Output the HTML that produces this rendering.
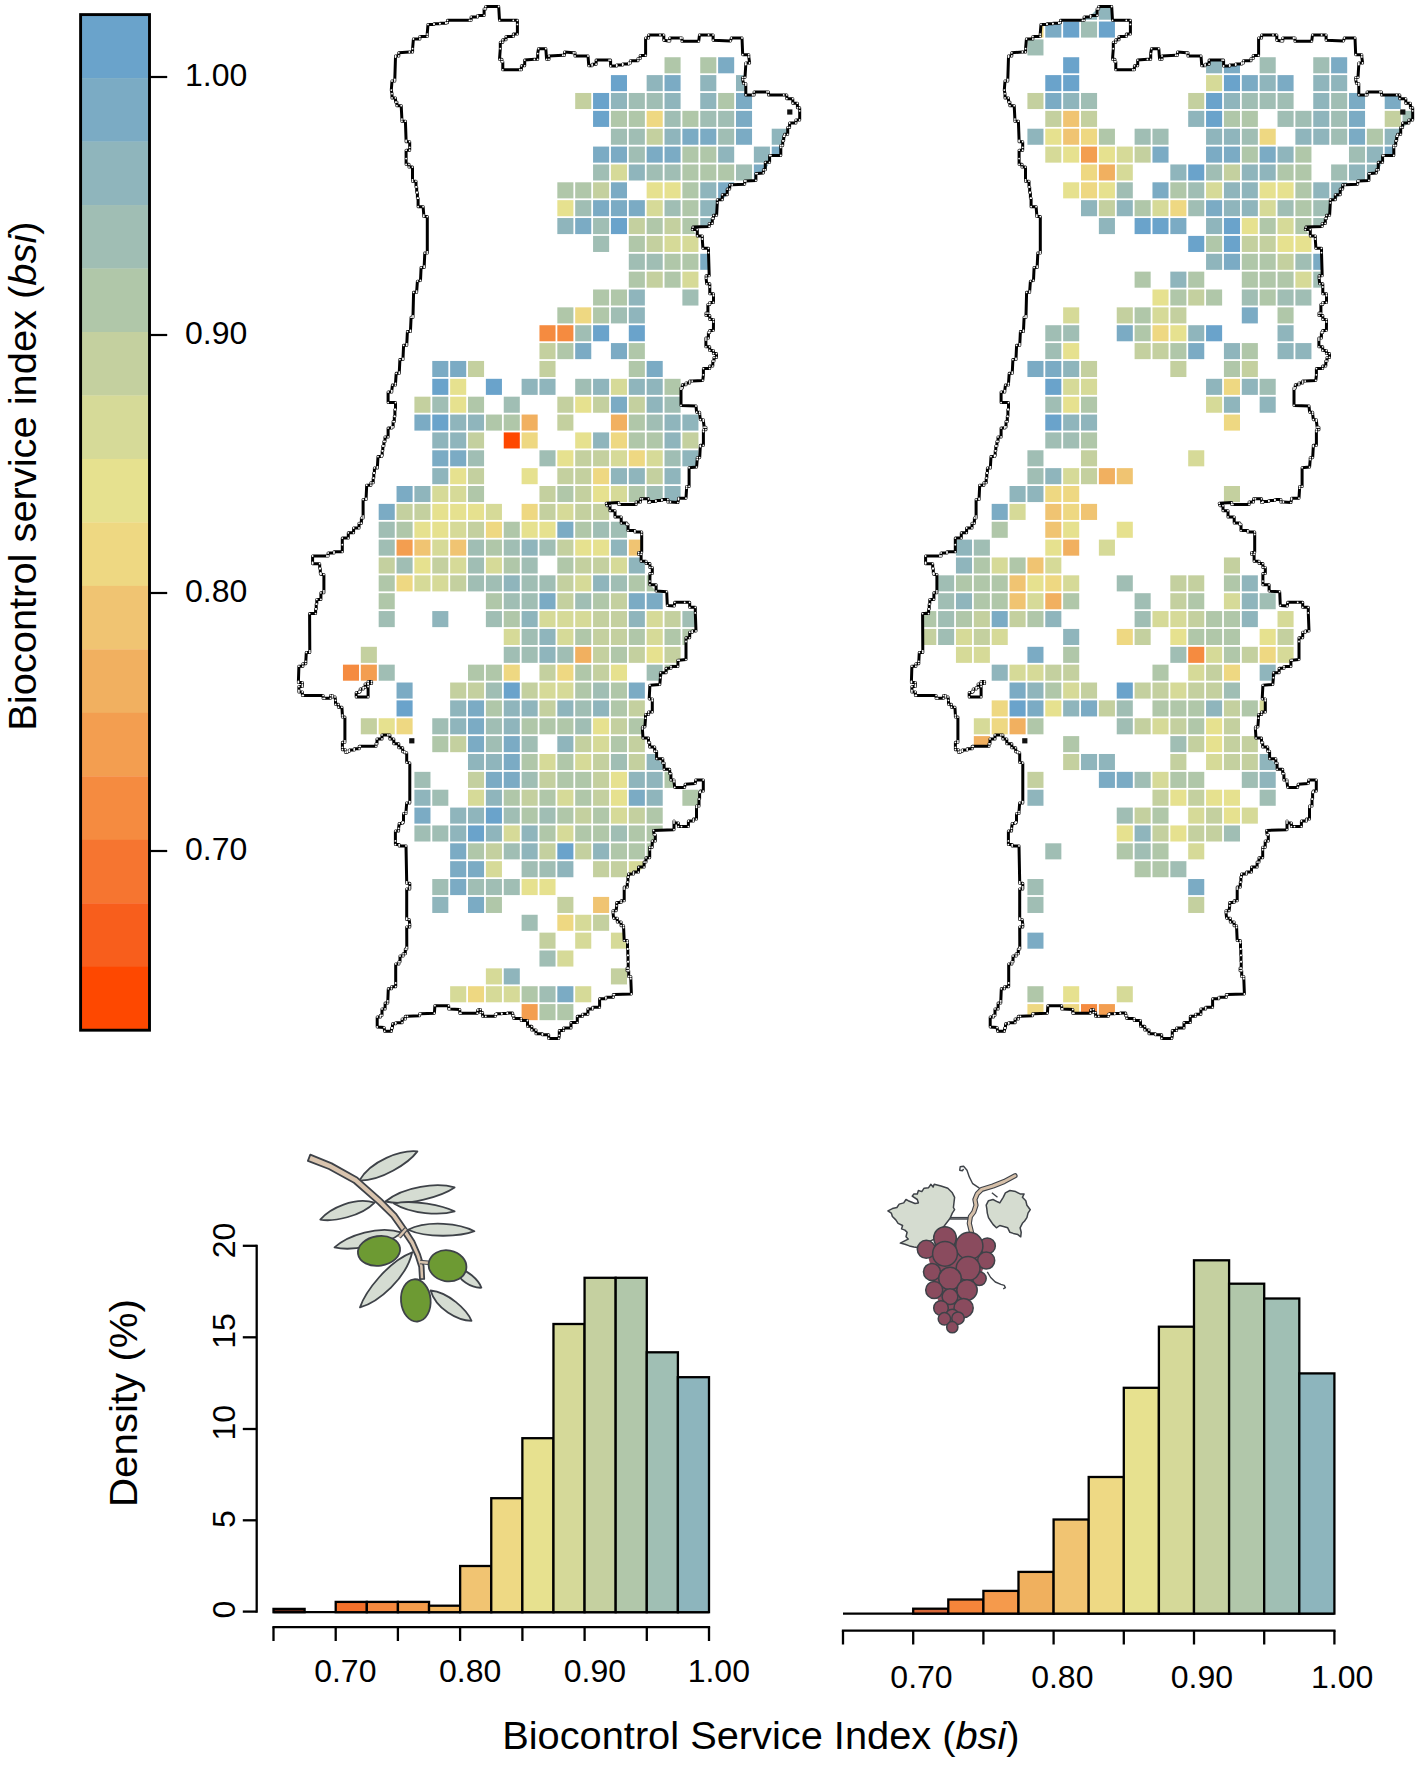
<!DOCTYPE html>
<html><head><meta charset="utf-8"><style>
html,body{margin:0;padding:0;background:#fff;}
svg{display:block;}
.t{font-family:"Liberation Sans",sans-serif;fill:#000;}
</style></head><body>
<svg width="1416" height="1765" viewBox="0 0 1416 1765">
<defs><marker id="dot" markerUnits="userSpaceOnUse" markerWidth="4" markerHeight="4" refX="2" refY="2" overflow="visible"><circle cx="2" cy="2" r="0.9" fill="#fff"/></marker></defs>
<rect width="1416" height="1765" fill="#fff"/>
<rect x="80.6" y="14.60" width="68.9" height="63.77" fill="#6aa3cb"/>
<rect x="80.6" y="78.08" width="68.9" height="63.77" fill="#7babc4"/>
<rect x="80.6" y="141.55" width="68.9" height="63.77" fill="#8fb5bc"/>
<rect x="80.6" y="205.03" width="68.9" height="63.77" fill="#a0beb4"/>
<rect x="80.6" y="268.50" width="68.9" height="63.77" fill="#b0c7a9"/>
<rect x="80.6" y="331.98" width="68.9" height="63.77" fill="#c4d09f"/>
<rect x="80.6" y="395.45" width="68.9" height="63.77" fill="#d6da98"/>
<rect x="80.6" y="458.93" width="68.9" height="63.77" fill="#e6e18f"/>
<rect x="80.6" y="522.40" width="68.9" height="63.77" fill="#eed882"/>
<rect x="80.6" y="585.88" width="68.9" height="63.77" fill="#f0c472"/>
<rect x="80.6" y="649.35" width="68.9" height="63.77" fill="#f1b060"/>
<rect x="80.6" y="712.83" width="68.9" height="63.77" fill="#f39e50"/>
<rect x="80.6" y="776.30" width="68.9" height="63.77" fill="#f58b40"/>
<rect x="80.6" y="839.78" width="68.9" height="63.77" fill="#f67530"/>
<rect x="80.6" y="903.25" width="68.9" height="63.77" fill="#f85e1c"/>
<rect x="80.6" y="966.73" width="68.9" height="63.77" fill="#fe4800"/>
<rect x="80.6" y="14.6" width="68.9" height="1015.6" fill="none" stroke="#000" stroke-width="2.9"/>
<line x1="150" y1="77" x2="167.2" y2="77" stroke="#000" stroke-width="2.2"/>
<text x="185" y="86" font-size="32" class="t">1.00</text>
<line x1="150" y1="335" x2="167.2" y2="335" stroke="#000" stroke-width="2.2"/>
<text x="185" y="344" font-size="32" class="t">0.90</text>
<line x1="150" y1="593" x2="167.2" y2="593" stroke="#000" stroke-width="2.2"/>
<text x="185" y="602" font-size="32" class="t">0.80</text>
<line x1="150" y1="851" x2="167.2" y2="851" stroke="#000" stroke-width="2.2"/>
<text x="185" y="860" font-size="32" class="t">0.70</text>
<text class="t" font-size="39" textLength="509.4" lengthAdjust="spacingAndGlyphs" transform="translate(36,730.8) rotate(-90)">Biocontrol service index (<tspan font-style="italic">bsi</tspan>)</text>
<clipPath id="clip1"><polygon points="395.6,56.0 398.8,52.8 409.4,52.0 412.6,48.7 413.4,39.0 419.9,36.5 427.2,34.1 428.0,24.4 445.9,22.7 447.5,20.3 469.5,20.3 471.1,17.0 477.6,15.4 484.1,8.9 485.7,6.5 498.7,6.5 499.5,20.3 513.3,20.3 517.4,24.4 517.4,34.1 513.3,36.5 506.0,39.8 502.8,42.2 500.3,48.7 499.5,59.3 501.9,61.7 502.8,69.8 519.8,69.8 521.4,65.8 524.7,60.1 534.4,59.3 537.7,53.6 538.5,48.7 545.8,48.7 546.6,59.3 549.0,56.0 562.8,55.2 564.5,52.0 573.4,52.8 575.0,56.0 588.0,56.0 588.8,65.8 592.1,64.2 596.1,60.1 609.1,60.1 610.6,66.0 628.8,63.0 630.4,60.7 638.0,58.5 640.2,55.4 645.6,55.4 645.6,38.0 648.6,34.9 660.0,34.9 663.8,40.2 668.3,41.0 669.8,38.0 680.5,38.0 682.0,41.3 698.7,41.3 699.5,34.9 708.6,34.9 713.1,40.2 730.6,41.0 731.3,38.0 742.0,38.0 742.7,54.7 748.8,56.9 749.6,63.0 745.8,64.5 745.0,77.4 742.7,79.7 743.5,83.5 745.8,85.0 745.8,94.9 752.6,94.9 754.1,91.9 767.0,91.9 768.5,94.9 783.7,94.9 786.8,98.7 792.8,103.2 797.4,107.8 799.7,110.8 799.7,120.0 795.9,123.0 789.6,127.4 787.7,134.3 784.6,136.2 782.7,145.5 780.8,147.4 780.8,155.5 770.9,155.5 769.6,162.3 765.3,169.8 763.4,172.9 757.1,173.6 755.9,180.4 745.9,181.0 744.7,184.2 732.2,184.8 729.7,189.1 727.2,194.7 722.3,199.7 717.3,202.8 716.6,215.3 713.5,218.4 712.3,223.4 709.2,226.5 693.0,227.1 692.3,229.6 697.3,235.9 702.3,239.0 702.9,248.3 708.5,252.7 709.2,275.8 706.1,278.2 706.7,283.8 709.8,287.0 709.8,293.8 713.5,295.7 713.5,302.5 709.8,304.4 707.9,313.1 706.0,315.6 709.8,319.4 713.5,321.9 713.4,330.6 709.7,332.5 708.4,338.1 705.9,339.9 705.9,346.8 709.7,350.5 713.4,353.6 716.5,357.4 714.0,361.1 712.8,366.1 709.7,368.6 703.4,374.8 702.8,380.4 692.2,381.1 689.7,382.9 686.0,384.8 682.3,387.9 681.0,389.2 681.0,405.4 696.0,406.0 696.6,412.2 699.7,414.1 700.3,419.7 703.4,421.0 704.1,427.2 705.9,429.7 703.4,431.5 703.4,445.3 700.3,446.5 699.7,457.7 697.2,459.6 696.6,467.1 689.1,467.7 689.1,486.4 686.6,488.2 686.0,498.2 678.5,499.5 677.9,502.6 670.4,502.0 667.9,499.5 649.9,502.6 648.6,498.8 642.4,498.8 640.5,502.0 636.1,504.4 619.9,504.4 618.7,502.6 606.2,503.2 606.9,505.7 610.0,510.7 615.0,516.9 621.2,523.1 626.8,524.4 628.0,530.6 634.9,531.9 641.7,534.4 641.7,552.4 638.6,554.3 641.1,561.2 646.1,563.6 649.9,567.4 652.3,573.6 649.9,581.1 649.9,584.8 656.1,591.1 666.7,591.7 667.3,605.4 674.2,606.0 674.8,602.3 684.7,602.3 689.7,607.3 695.3,612.9 696.0,631.0 692.2,632.2 689.7,637.8 686.0,641.5 686.0,659.6 679.1,660.2 677.9,666.5 671.0,668.3 666.1,672.7 660.4,677.7 659.8,684.5 649.9,685.2 649.2,698.9 652.3,700.7 652.3,712.0 648.6,714.4 645.5,718.2 644.9,726.9 642.4,728.8 643.0,738.1 648.5,742.5 649.7,746.9 654.7,751.2 656.6,758.7 662.8,763.1 664.1,769.3 669.7,773.6 670.9,779.9 674.0,781.7 674.7,787.4 684.6,787.4 685.2,784.2 695.2,783.6 695.8,779.9 703.3,779.9 703.3,791.1 700.2,792.3 699.0,806.0 696.5,807.3 696.5,819.1 693.4,821.0 688.4,826.6 681.5,826.6 678.4,822.9 674.0,821.0 674.0,829.7 653.5,830.4 654.1,834.7 655.3,841.0 652.2,847.2 649.7,849.7 649.7,857.8 646.0,862.1 644.1,867.1 638.5,872.1 633.5,874.0 628.5,877.1 627.3,887.1 624.2,888.9 624.2,900.8 621.1,902.6 616.7,905.8 616.1,910.7 613.0,912.6 613.6,918.2 617.3,922.0 621.1,925.7 623.6,927.6 624.2,940.6 627.3,942.5 628.2,968.1 627.1,970.7 628.7,976.5 630.8,978.7 631.4,994.0 614.4,994.6 613.3,997.2 605.9,998.8 599.6,1007.3 592.7,1008.9 587.9,1014.2 582.6,1016.3 577.3,1022.6 571.0,1027.9 563.6,1030.6 559.3,1035.3 558.8,1038.5 548.7,1038.5 548.7,1034.8 542.4,1033.8 536.0,1030.0 531.8,1026.3 527.5,1020.5 521.2,1018.4 513.8,1015.7 512.7,1013.1 496.4,1014.2 495.3,1016.3 485.8,1016.3 482.6,1012.6 480.5,1009.4 477.8,1010.0 477.3,1013.2 460.9,1013.2 459.8,1009.4 449.7,1008.9 448.7,1005.7 434.9,1005.7 434.4,1013.2 420.6,1013.7 419.6,1015.8 407.4,1016.3 405.3,1019.0 402.1,1022.7 395.7,1023.8 392.5,1028.0 391.5,1031.2 384.6,1031.2 384.1,1027.5 377.2,1026.9 377.2,1016.9 380.4,1015.3 382.0,1008.9 385.1,1003.1 387.8,1001.0 388.3,988.8 391.5,986.7 395.7,983.0 395.7,963.9 398.9,961.8 400.0,956.0 403.1,953.8 405.3,949.1 406.8,947.5 406.7,926.9 409.8,924.4 409.1,919.4 406.7,918.2 406.7,888.9 409.8,887.0 409.8,883.3 406.7,882.0 406.0,845.9 399.2,844.6 395.4,840.9 395.4,830.9 398.6,828.4 399.2,823.5 402.3,822.2 403.5,813.5 406.0,811.6 406.7,802.9 409.8,801.6 409.8,763.0 406.7,762.4 406.7,752.7 404.7,751.7 402.7,747.8 398.8,743.8 393.8,738.9 389.9,734.9 387.9,734.9 382.0,738.9 377.0,743.8 376.0,746.3 360.2,746.3 359.2,748.8 349.3,751.2 347.3,752.2 345.4,749.7 342.4,747.3 342.4,742.3 344.9,740.9 344.9,717.1 342.4,715.1 341.9,707.2 338.4,704.3 335.5,700.3 335.0,696.9 332.5,695.4 330.5,698.3 324.6,698.3 323.1,695.4 303.3,695.4 302.4,691.9 298.9,690.4 298.9,686.5 302.4,685.0 302.4,682.5 298.4,681.5 298.9,666.2 302.9,663.7 305.8,661.3 306.3,652.4 309.8,650.9 309.6,613.6 315.6,608.9 316.8,599.4 320.9,592.8 323.9,591.0 323.9,574.4 320.9,573.2 319.7,563.7 312.6,562.5 312.6,556.0 326.9,556.0 328.1,553.0 334.0,551.8 342.3,544.7 342.3,538.1 348.3,532.8 359.0,523.2 361.4,517.9 363.1,516.1 363.1,499.5 366.1,498.3 366.7,485.2 370.9,482.8 373.2,478.1 374.4,467.9 377.4,466.8 378.0,456.6 381.6,455.5 382.8,446.0 385.0,436.9 388.1,428.1 391.8,426.9 394.3,416.3 395.5,402.6 388.1,402.6 388.1,392.0 391.8,390.7 392.4,385.1 395.5,383.3 396.2,373.3 399.3,372.1 399.9,359.6 403.0,358.4 403.6,345.3 406.8,344.0 407.4,331.6 410.5,330.3 411.1,317.2 413.0,316.0 413.6,292.3 416.7,291.1 417.4,281.1 420.5,280.5 421.1,267.4 424.2,266.1 424.8,253.1 427.3,251.8 427.3,216.6 423.8,215.1 423.1,206.7 418.1,198.2 416.0,181.2 412.5,179.8 412.5,167.1 409.0,164.3 406.1,158.6 406.1,150.2 409.7,147.3 409.7,141.7 406.1,140.3 405.4,121.2 401.9,119.1 401.2,105.7 396.9,102.1 395.5,97.9 392.0,93.7 391.3,90.1 392.0,81.0 394.8,79.5 395.5,57.0"/></clipPath>
<g clip-path="url(#clip1)">
<rect x="664.52" y="57.24" width="16.07" height="16.07" fill="#b0c7a9"/>
<rect x="700.25" y="57.24" width="16.07" height="16.07" fill="#b0c7a9"/>
<rect x="718.12" y="57.24" width="16.07" height="16.07" fill="#7babc4"/>
<rect x="610.92" y="75.11" width="16.07" height="16.07" fill="#6aa3cb"/>
<rect x="646.65" y="75.11" width="16.07" height="16.07" fill="#8fb5bc"/>
<rect x="664.52" y="75.11" width="16.07" height="16.07" fill="#7babc4"/>
<rect x="700.25" y="75.11" width="16.07" height="16.07" fill="#8fb5bc"/>
<rect x="735.98" y="75.11" width="16.07" height="16.07" fill="#8fb5bc"/>
<rect x="575.19" y="92.97" width="16.07" height="16.07" fill="#c4d09f"/>
<rect x="593.06" y="92.97" width="16.07" height="16.07" fill="#6aa3cb"/>
<rect x="610.92" y="92.97" width="16.07" height="16.07" fill="#8fb5bc"/>
<rect x="628.79" y="92.97" width="16.07" height="16.07" fill="#a0beb4"/>
<rect x="646.65" y="92.97" width="16.07" height="16.07" fill="#a0beb4"/>
<rect x="664.52" y="92.97" width="16.07" height="16.07" fill="#8fb5bc"/>
<rect x="700.25" y="92.97" width="16.07" height="16.07" fill="#8fb5bc"/>
<rect x="718.12" y="92.97" width="16.07" height="16.07" fill="#b0c7a9"/>
<rect x="735.98" y="92.97" width="16.07" height="16.07" fill="#7babc4"/>
<rect x="593.06" y="110.84" width="16.07" height="16.07" fill="#6aa3cb"/>
<rect x="610.92" y="110.84" width="16.07" height="16.07" fill="#b0c7a9"/>
<rect x="628.79" y="110.84" width="16.07" height="16.07" fill="#b0c7a9"/>
<rect x="646.65" y="110.84" width="16.07" height="16.07" fill="#eed882"/>
<rect x="664.52" y="110.84" width="16.07" height="16.07" fill="#a0beb4"/>
<rect x="682.38" y="110.84" width="16.07" height="16.07" fill="#b0c7a9"/>
<rect x="700.25" y="110.84" width="16.07" height="16.07" fill="#a0beb4"/>
<rect x="718.12" y="110.84" width="16.07" height="16.07" fill="#a0beb4"/>
<rect x="735.98" y="110.84" width="16.07" height="16.07" fill="#7babc4"/>
<rect x="610.92" y="128.70" width="16.07" height="16.07" fill="#a0beb4"/>
<rect x="628.79" y="128.70" width="16.07" height="16.07" fill="#a0beb4"/>
<rect x="646.65" y="128.70" width="16.07" height="16.07" fill="#c4d09f"/>
<rect x="664.52" y="128.70" width="16.07" height="16.07" fill="#8fb5bc"/>
<rect x="682.38" y="128.70" width="16.07" height="16.07" fill="#7babc4"/>
<rect x="700.25" y="128.70" width="16.07" height="16.07" fill="#7babc4"/>
<rect x="718.12" y="128.70" width="16.07" height="16.07" fill="#a0beb4"/>
<rect x="735.98" y="128.70" width="16.07" height="16.07" fill="#7babc4"/>
<rect x="771.71" y="128.70" width="16.07" height="16.07" fill="#8fb5bc"/>
<rect x="593.06" y="146.57" width="16.07" height="16.07" fill="#7babc4"/>
<rect x="610.92" y="146.57" width="16.07" height="16.07" fill="#7babc4"/>
<rect x="628.79" y="146.57" width="16.07" height="16.07" fill="#a0beb4"/>
<rect x="646.65" y="146.57" width="16.07" height="16.07" fill="#7babc4"/>
<rect x="664.52" y="146.57" width="16.07" height="16.07" fill="#7babc4"/>
<rect x="682.38" y="146.57" width="16.07" height="16.07" fill="#b0c7a9"/>
<rect x="700.25" y="146.57" width="16.07" height="16.07" fill="#b0c7a9"/>
<rect x="718.12" y="146.57" width="16.07" height="16.07" fill="#8fb5bc"/>
<rect x="753.85" y="146.57" width="16.07" height="16.07" fill="#8fb5bc"/>
<rect x="771.71" y="146.57" width="16.07" height="16.07" fill="#7babc4"/>
<rect x="593.06" y="164.44" width="16.07" height="16.07" fill="#a0beb4"/>
<rect x="610.92" y="164.44" width="16.07" height="16.07" fill="#d6da98"/>
<rect x="628.79" y="164.44" width="16.07" height="16.07" fill="#8fb5bc"/>
<rect x="646.65" y="164.44" width="16.07" height="16.07" fill="#a0beb4"/>
<rect x="664.52" y="164.44" width="16.07" height="16.07" fill="#a0beb4"/>
<rect x="682.38" y="164.44" width="16.07" height="16.07" fill="#b0c7a9"/>
<rect x="700.25" y="164.44" width="16.07" height="16.07" fill="#b0c7a9"/>
<rect x="718.12" y="164.44" width="16.07" height="16.07" fill="#b0c7a9"/>
<rect x="735.98" y="164.44" width="16.07" height="16.07" fill="#a0beb4"/>
<rect x="753.85" y="164.44" width="16.07" height="16.07" fill="#7babc4"/>
<rect x="557.33" y="182.30" width="16.07" height="16.07" fill="#b0c7a9"/>
<rect x="575.19" y="182.30" width="16.07" height="16.07" fill="#b0c7a9"/>
<rect x="593.06" y="182.30" width="16.07" height="16.07" fill="#c4d09f"/>
<rect x="610.92" y="182.30" width="16.07" height="16.07" fill="#7babc4"/>
<rect x="646.65" y="182.30" width="16.07" height="16.07" fill="#e6e18f"/>
<rect x="664.52" y="182.30" width="16.07" height="16.07" fill="#e6e18f"/>
<rect x="682.38" y="182.30" width="16.07" height="16.07" fill="#b0c7a9"/>
<rect x="700.25" y="182.30" width="16.07" height="16.07" fill="#8fb5bc"/>
<rect x="718.12" y="182.30" width="16.07" height="16.07" fill="#7babc4"/>
<rect x="557.33" y="200.16" width="16.07" height="16.07" fill="#e6e18f"/>
<rect x="575.19" y="200.16" width="16.07" height="16.07" fill="#a0beb4"/>
<rect x="593.06" y="200.16" width="16.07" height="16.07" fill="#7babc4"/>
<rect x="610.92" y="200.16" width="16.07" height="16.07" fill="#7babc4"/>
<rect x="628.79" y="200.16" width="16.07" height="16.07" fill="#7babc4"/>
<rect x="646.65" y="200.16" width="16.07" height="16.07" fill="#d6da98"/>
<rect x="664.52" y="200.16" width="16.07" height="16.07" fill="#a0beb4"/>
<rect x="682.38" y="200.16" width="16.07" height="16.07" fill="#b0c7a9"/>
<rect x="700.25" y="200.16" width="16.07" height="16.07" fill="#8fb5bc"/>
<rect x="557.33" y="218.03" width="16.07" height="16.07" fill="#8fb5bc"/>
<rect x="575.19" y="218.03" width="16.07" height="16.07" fill="#7babc4"/>
<rect x="593.06" y="218.03" width="16.07" height="16.07" fill="#a0beb4"/>
<rect x="610.92" y="218.03" width="16.07" height="16.07" fill="#6aa3cb"/>
<rect x="628.79" y="218.03" width="16.07" height="16.07" fill="#c4d09f"/>
<rect x="646.65" y="218.03" width="16.07" height="16.07" fill="#b0c7a9"/>
<rect x="664.52" y="218.03" width="16.07" height="16.07" fill="#c4d09f"/>
<rect x="682.38" y="218.03" width="16.07" height="16.07" fill="#b0c7a9"/>
<rect x="700.25" y="218.03" width="16.07" height="16.07" fill="#8fb5bc"/>
<rect x="593.06" y="235.89" width="16.07" height="16.07" fill="#a0beb4"/>
<rect x="628.79" y="235.89" width="16.07" height="16.07" fill="#b0c7a9"/>
<rect x="646.65" y="235.89" width="16.07" height="16.07" fill="#c4d09f"/>
<rect x="664.52" y="235.89" width="16.07" height="16.07" fill="#d6da98"/>
<rect x="682.38" y="235.89" width="16.07" height="16.07" fill="#d6da98"/>
<rect x="628.79" y="253.76" width="16.07" height="16.07" fill="#a0beb4"/>
<rect x="646.65" y="253.76" width="16.07" height="16.07" fill="#a0beb4"/>
<rect x="664.52" y="253.76" width="16.07" height="16.07" fill="#b0c7a9"/>
<rect x="682.38" y="253.76" width="16.07" height="16.07" fill="#b0c7a9"/>
<rect x="700.25" y="253.76" width="16.07" height="16.07" fill="#7babc4"/>
<rect x="628.79" y="271.62" width="16.07" height="16.07" fill="#b0c7a9"/>
<rect x="646.65" y="271.62" width="16.07" height="16.07" fill="#c4d09f"/>
<rect x="664.52" y="271.62" width="16.07" height="16.07" fill="#b0c7a9"/>
<rect x="682.38" y="271.62" width="16.07" height="16.07" fill="#d6da98"/>
<rect x="593.06" y="289.49" width="16.07" height="16.07" fill="#b0c7a9"/>
<rect x="610.92" y="289.49" width="16.07" height="16.07" fill="#b0c7a9"/>
<rect x="628.79" y="289.49" width="16.07" height="16.07" fill="#8fb5bc"/>
<rect x="682.38" y="289.49" width="16.07" height="16.07" fill="#a0beb4"/>
<rect x="557.33" y="307.35" width="16.07" height="16.07" fill="#b0c7a9"/>
<rect x="575.19" y="307.35" width="16.07" height="16.07" fill="#eed882"/>
<rect x="593.06" y="307.35" width="16.07" height="16.07" fill="#b0c7a9"/>
<rect x="610.92" y="307.35" width="16.07" height="16.07" fill="#a0beb4"/>
<rect x="628.79" y="307.35" width="16.07" height="16.07" fill="#8fb5bc"/>
<rect x="539.46" y="325.22" width="16.07" height="16.07" fill="#f58b40"/>
<rect x="557.33" y="325.22" width="16.07" height="16.07" fill="#f58b40"/>
<rect x="575.19" y="325.22" width="16.07" height="16.07" fill="#a0beb4"/>
<rect x="593.06" y="325.22" width="16.07" height="16.07" fill="#6aa3cb"/>
<rect x="628.79" y="325.22" width="16.07" height="16.07" fill="#6aa3cb"/>
<rect x="539.46" y="343.08" width="16.07" height="16.07" fill="#c4d09f"/>
<rect x="557.33" y="343.08" width="16.07" height="16.07" fill="#b0c7a9"/>
<rect x="575.19" y="343.08" width="16.07" height="16.07" fill="#7babc4"/>
<rect x="610.92" y="343.08" width="16.07" height="16.07" fill="#7babc4"/>
<rect x="628.79" y="343.08" width="16.07" height="16.07" fill="#b0c7a9"/>
<rect x="432.27" y="360.95" width="16.07" height="16.07" fill="#7babc4"/>
<rect x="450.14" y="360.95" width="16.07" height="16.07" fill="#7babc4"/>
<rect x="468.00" y="360.95" width="16.07" height="16.07" fill="#c4d09f"/>
<rect x="539.46" y="360.95" width="16.07" height="16.07" fill="#c4d09f"/>
<rect x="628.79" y="360.95" width="16.07" height="16.07" fill="#b0c7a9"/>
<rect x="646.65" y="360.95" width="16.07" height="16.07" fill="#7babc4"/>
<rect x="432.27" y="378.81" width="16.07" height="16.07" fill="#6aa3cb"/>
<rect x="450.14" y="378.81" width="16.07" height="16.07" fill="#e6e18f"/>
<rect x="485.87" y="378.81" width="16.07" height="16.07" fill="#6aa3cb"/>
<rect x="521.60" y="378.81" width="16.07" height="16.07" fill="#8fb5bc"/>
<rect x="539.46" y="378.81" width="16.07" height="16.07" fill="#8fb5bc"/>
<rect x="575.19" y="378.81" width="16.07" height="16.07" fill="#a0beb4"/>
<rect x="593.06" y="378.81" width="16.07" height="16.07" fill="#8fb5bc"/>
<rect x="610.92" y="378.81" width="16.07" height="16.07" fill="#d6da98"/>
<rect x="628.79" y="378.81" width="16.07" height="16.07" fill="#8fb5bc"/>
<rect x="646.65" y="378.81" width="16.07" height="16.07" fill="#8fb5bc"/>
<rect x="664.52" y="378.81" width="16.07" height="16.07" fill="#b0c7a9"/>
<rect x="414.41" y="396.68" width="16.07" height="16.07" fill="#c4d09f"/>
<rect x="432.27" y="396.68" width="16.07" height="16.07" fill="#a0beb4"/>
<rect x="450.14" y="396.68" width="16.07" height="16.07" fill="#e6e18f"/>
<rect x="468.00" y="396.68" width="16.07" height="16.07" fill="#b0c7a9"/>
<rect x="503.74" y="396.68" width="16.07" height="16.07" fill="#a0beb4"/>
<rect x="557.33" y="396.68" width="16.07" height="16.07" fill="#c4d09f"/>
<rect x="575.19" y="396.68" width="16.07" height="16.07" fill="#e6e18f"/>
<rect x="593.06" y="396.68" width="16.07" height="16.07" fill="#c4d09f"/>
<rect x="610.92" y="396.68" width="16.07" height="16.07" fill="#7babc4"/>
<rect x="628.79" y="396.68" width="16.07" height="16.07" fill="#c4d09f"/>
<rect x="646.65" y="396.68" width="16.07" height="16.07" fill="#8fb5bc"/>
<rect x="664.52" y="396.68" width="16.07" height="16.07" fill="#a0beb4"/>
<rect x="414.41" y="414.54" width="16.07" height="16.07" fill="#7babc4"/>
<rect x="432.27" y="414.54" width="16.07" height="16.07" fill="#6aa3cb"/>
<rect x="450.14" y="414.54" width="16.07" height="16.07" fill="#8fb5bc"/>
<rect x="468.00" y="414.54" width="16.07" height="16.07" fill="#8fb5bc"/>
<rect x="485.87" y="414.54" width="16.07" height="16.07" fill="#b0c7a9"/>
<rect x="503.74" y="414.54" width="16.07" height="16.07" fill="#b0c7a9"/>
<rect x="521.60" y="414.54" width="16.07" height="16.07" fill="#f1b060"/>
<rect x="557.33" y="414.54" width="16.07" height="16.07" fill="#c4d09f"/>
<rect x="610.92" y="414.54" width="16.07" height="16.07" fill="#f1b060"/>
<rect x="628.79" y="414.54" width="16.07" height="16.07" fill="#b0c7a9"/>
<rect x="646.65" y="414.54" width="16.07" height="16.07" fill="#a0beb4"/>
<rect x="664.52" y="414.54" width="16.07" height="16.07" fill="#8fb5bc"/>
<rect x="682.38" y="414.54" width="16.07" height="16.07" fill="#8fb5bc"/>
<rect x="432.27" y="432.41" width="16.07" height="16.07" fill="#8fb5bc"/>
<rect x="450.14" y="432.41" width="16.07" height="16.07" fill="#8fb5bc"/>
<rect x="468.00" y="432.41" width="16.07" height="16.07" fill="#c4d09f"/>
<rect x="503.74" y="432.41" width="16.07" height="16.07" fill="#fe4800"/>
<rect x="521.60" y="432.41" width="16.07" height="16.07" fill="#eed882"/>
<rect x="575.19" y="432.41" width="16.07" height="16.07" fill="#e6e18f"/>
<rect x="593.06" y="432.41" width="16.07" height="16.07" fill="#8fb5bc"/>
<rect x="610.92" y="432.41" width="16.07" height="16.07" fill="#eed882"/>
<rect x="628.79" y="432.41" width="16.07" height="16.07" fill="#b0c7a9"/>
<rect x="646.65" y="432.41" width="16.07" height="16.07" fill="#b0c7a9"/>
<rect x="664.52" y="432.41" width="16.07" height="16.07" fill="#8fb5bc"/>
<rect x="682.38" y="432.41" width="16.07" height="16.07" fill="#c4d09f"/>
<rect x="432.27" y="450.27" width="16.07" height="16.07" fill="#7babc4"/>
<rect x="450.14" y="450.27" width="16.07" height="16.07" fill="#7babc4"/>
<rect x="468.00" y="450.27" width="16.07" height="16.07" fill="#a0beb4"/>
<rect x="539.46" y="450.27" width="16.07" height="16.07" fill="#a0beb4"/>
<rect x="557.33" y="450.27" width="16.07" height="16.07" fill="#e6e18f"/>
<rect x="575.19" y="450.27" width="16.07" height="16.07" fill="#c4d09f"/>
<rect x="593.06" y="450.27" width="16.07" height="16.07" fill="#c4d09f"/>
<rect x="610.92" y="450.27" width="16.07" height="16.07" fill="#d6da98"/>
<rect x="628.79" y="450.27" width="16.07" height="16.07" fill="#eed882"/>
<rect x="646.65" y="450.27" width="16.07" height="16.07" fill="#d6da98"/>
<rect x="664.52" y="450.27" width="16.07" height="16.07" fill="#a0beb4"/>
<rect x="682.38" y="450.27" width="16.07" height="16.07" fill="#8fb5bc"/>
<rect x="432.27" y="468.14" width="16.07" height="16.07" fill="#8fb5bc"/>
<rect x="450.14" y="468.14" width="16.07" height="16.07" fill="#e6e18f"/>
<rect x="468.00" y="468.14" width="16.07" height="16.07" fill="#c4d09f"/>
<rect x="521.60" y="468.14" width="16.07" height="16.07" fill="#e6e18f"/>
<rect x="557.33" y="468.14" width="16.07" height="16.07" fill="#c4d09f"/>
<rect x="575.19" y="468.14" width="16.07" height="16.07" fill="#c4d09f"/>
<rect x="593.06" y="468.14" width="16.07" height="16.07" fill="#eed882"/>
<rect x="610.92" y="468.14" width="16.07" height="16.07" fill="#8fb5bc"/>
<rect x="628.79" y="468.14" width="16.07" height="16.07" fill="#8fb5bc"/>
<rect x="646.65" y="468.14" width="16.07" height="16.07" fill="#c4d09f"/>
<rect x="664.52" y="468.14" width="16.07" height="16.07" fill="#8fb5bc"/>
<rect x="396.54" y="486.00" width="16.07" height="16.07" fill="#7babc4"/>
<rect x="414.41" y="486.00" width="16.07" height="16.07" fill="#8fb5bc"/>
<rect x="432.27" y="486.00" width="16.07" height="16.07" fill="#d6da98"/>
<rect x="450.14" y="486.00" width="16.07" height="16.07" fill="#d6da98"/>
<rect x="468.00" y="486.00" width="16.07" height="16.07" fill="#b0c7a9"/>
<rect x="539.46" y="486.00" width="16.07" height="16.07" fill="#c4d09f"/>
<rect x="557.33" y="486.00" width="16.07" height="16.07" fill="#b0c7a9"/>
<rect x="575.19" y="486.00" width="16.07" height="16.07" fill="#c4d09f"/>
<rect x="593.06" y="486.00" width="16.07" height="16.07" fill="#e6e18f"/>
<rect x="610.92" y="486.00" width="16.07" height="16.07" fill="#d6da98"/>
<rect x="628.79" y="486.00" width="16.07" height="16.07" fill="#b0c7a9"/>
<rect x="646.65" y="486.00" width="16.07" height="16.07" fill="#a0beb4"/>
<rect x="664.52" y="486.00" width="16.07" height="16.07" fill="#8fb5bc"/>
<rect x="378.68" y="503.87" width="16.07" height="16.07" fill="#7babc4"/>
<rect x="396.54" y="503.87" width="16.07" height="16.07" fill="#c4d09f"/>
<rect x="414.41" y="503.87" width="16.07" height="16.07" fill="#c4d09f"/>
<rect x="432.27" y="503.87" width="16.07" height="16.07" fill="#e6e18f"/>
<rect x="450.14" y="503.87" width="16.07" height="16.07" fill="#e6e18f"/>
<rect x="468.00" y="503.87" width="16.07" height="16.07" fill="#e6e18f"/>
<rect x="485.87" y="503.87" width="16.07" height="16.07" fill="#d6da98"/>
<rect x="521.60" y="503.87" width="16.07" height="16.07" fill="#eed882"/>
<rect x="539.46" y="503.87" width="16.07" height="16.07" fill="#c4d09f"/>
<rect x="557.33" y="503.87" width="16.07" height="16.07" fill="#d6da98"/>
<rect x="575.19" y="503.87" width="16.07" height="16.07" fill="#c4d09f"/>
<rect x="593.06" y="503.87" width="16.07" height="16.07" fill="#c4d09f"/>
<rect x="378.68" y="521.73" width="16.07" height="16.07" fill="#a0beb4"/>
<rect x="396.54" y="521.73" width="16.07" height="16.07" fill="#b0c7a9"/>
<rect x="414.41" y="521.73" width="16.07" height="16.07" fill="#e6e18f"/>
<rect x="432.27" y="521.73" width="16.07" height="16.07" fill="#e6e18f"/>
<rect x="450.14" y="521.73" width="16.07" height="16.07" fill="#d6da98"/>
<rect x="468.00" y="521.73" width="16.07" height="16.07" fill="#c4d09f"/>
<rect x="485.87" y="521.73" width="16.07" height="16.07" fill="#eed882"/>
<rect x="503.74" y="521.73" width="16.07" height="16.07" fill="#b0c7a9"/>
<rect x="521.60" y="521.73" width="16.07" height="16.07" fill="#e6e18f"/>
<rect x="539.46" y="521.73" width="16.07" height="16.07" fill="#e6e18f"/>
<rect x="557.33" y="521.73" width="16.07" height="16.07" fill="#7babc4"/>
<rect x="575.19" y="521.73" width="16.07" height="16.07" fill="#b0c7a9"/>
<rect x="593.06" y="521.73" width="16.07" height="16.07" fill="#a0beb4"/>
<rect x="610.92" y="521.73" width="16.07" height="16.07" fill="#a0beb4"/>
<rect x="378.68" y="539.60" width="16.07" height="16.07" fill="#a0beb4"/>
<rect x="396.54" y="539.60" width="16.07" height="16.07" fill="#f39e50"/>
<rect x="414.41" y="539.60" width="16.07" height="16.07" fill="#f0c472"/>
<rect x="432.27" y="539.60" width="16.07" height="16.07" fill="#d6da98"/>
<rect x="450.14" y="539.60" width="16.07" height="16.07" fill="#f0c472"/>
<rect x="468.00" y="539.60" width="16.07" height="16.07" fill="#a0beb4"/>
<rect x="485.87" y="539.60" width="16.07" height="16.07" fill="#b0c7a9"/>
<rect x="503.74" y="539.60" width="16.07" height="16.07" fill="#a0beb4"/>
<rect x="521.60" y="539.60" width="16.07" height="16.07" fill="#8fb5bc"/>
<rect x="539.46" y="539.60" width="16.07" height="16.07" fill="#a0beb4"/>
<rect x="557.33" y="539.60" width="16.07" height="16.07" fill="#c4d09f"/>
<rect x="575.19" y="539.60" width="16.07" height="16.07" fill="#e6e18f"/>
<rect x="593.06" y="539.60" width="16.07" height="16.07" fill="#e6e18f"/>
<rect x="610.92" y="539.60" width="16.07" height="16.07" fill="#8fb5bc"/>
<rect x="628.79" y="539.60" width="16.07" height="16.07" fill="#f0c472"/>
<rect x="378.68" y="557.46" width="16.07" height="16.07" fill="#c4d09f"/>
<rect x="396.54" y="557.46" width="16.07" height="16.07" fill="#a0beb4"/>
<rect x="414.41" y="557.46" width="16.07" height="16.07" fill="#e6e18f"/>
<rect x="432.27" y="557.46" width="16.07" height="16.07" fill="#c4d09f"/>
<rect x="450.14" y="557.46" width="16.07" height="16.07" fill="#d6da98"/>
<rect x="468.00" y="557.46" width="16.07" height="16.07" fill="#a0beb4"/>
<rect x="485.87" y="557.46" width="16.07" height="16.07" fill="#d6da98"/>
<rect x="503.74" y="557.46" width="16.07" height="16.07" fill="#b0c7a9"/>
<rect x="521.60" y="557.46" width="16.07" height="16.07" fill="#a0beb4"/>
<rect x="557.33" y="557.46" width="16.07" height="16.07" fill="#b0c7a9"/>
<rect x="575.19" y="557.46" width="16.07" height="16.07" fill="#c4d09f"/>
<rect x="593.06" y="557.46" width="16.07" height="16.07" fill="#c4d09f"/>
<rect x="610.92" y="557.46" width="16.07" height="16.07" fill="#d6da98"/>
<rect x="628.79" y="557.46" width="16.07" height="16.07" fill="#8fb5bc"/>
<rect x="378.68" y="575.33" width="16.07" height="16.07" fill="#b0c7a9"/>
<rect x="396.54" y="575.33" width="16.07" height="16.07" fill="#eed882"/>
<rect x="414.41" y="575.33" width="16.07" height="16.07" fill="#d6da98"/>
<rect x="432.27" y="575.33" width="16.07" height="16.07" fill="#d6da98"/>
<rect x="450.14" y="575.33" width="16.07" height="16.07" fill="#c4d09f"/>
<rect x="468.00" y="575.33" width="16.07" height="16.07" fill="#a0beb4"/>
<rect x="485.87" y="575.33" width="16.07" height="16.07" fill="#a0beb4"/>
<rect x="503.74" y="575.33" width="16.07" height="16.07" fill="#8fb5bc"/>
<rect x="521.60" y="575.33" width="16.07" height="16.07" fill="#a0beb4"/>
<rect x="539.46" y="575.33" width="16.07" height="16.07" fill="#a0beb4"/>
<rect x="557.33" y="575.33" width="16.07" height="16.07" fill="#c4d09f"/>
<rect x="575.19" y="575.33" width="16.07" height="16.07" fill="#d6da98"/>
<rect x="593.06" y="575.33" width="16.07" height="16.07" fill="#8fb5bc"/>
<rect x="610.92" y="575.33" width="16.07" height="16.07" fill="#a0beb4"/>
<rect x="628.79" y="575.33" width="16.07" height="16.07" fill="#b0c7a9"/>
<rect x="646.65" y="575.33" width="16.07" height="16.07" fill="#b0c7a9"/>
<rect x="378.68" y="593.19" width="16.07" height="16.07" fill="#b0c7a9"/>
<rect x="485.87" y="593.19" width="16.07" height="16.07" fill="#b0c7a9"/>
<rect x="503.74" y="593.19" width="16.07" height="16.07" fill="#a0beb4"/>
<rect x="521.60" y="593.19" width="16.07" height="16.07" fill="#a0beb4"/>
<rect x="539.46" y="593.19" width="16.07" height="16.07" fill="#7babc4"/>
<rect x="557.33" y="593.19" width="16.07" height="16.07" fill="#c4d09f"/>
<rect x="575.19" y="593.19" width="16.07" height="16.07" fill="#a0beb4"/>
<rect x="593.06" y="593.19" width="16.07" height="16.07" fill="#b0c7a9"/>
<rect x="610.92" y="593.19" width="16.07" height="16.07" fill="#c4d09f"/>
<rect x="628.79" y="593.19" width="16.07" height="16.07" fill="#7babc4"/>
<rect x="646.65" y="593.19" width="16.07" height="16.07" fill="#7babc4"/>
<rect x="378.68" y="611.06" width="16.07" height="16.07" fill="#a0beb4"/>
<rect x="432.27" y="611.06" width="16.07" height="16.07" fill="#8fb5bc"/>
<rect x="485.87" y="611.06" width="16.07" height="16.07" fill="#a0beb4"/>
<rect x="503.74" y="611.06" width="16.07" height="16.07" fill="#b0c7a9"/>
<rect x="521.60" y="611.06" width="16.07" height="16.07" fill="#8fb5bc"/>
<rect x="539.46" y="611.06" width="16.07" height="16.07" fill="#d6da98"/>
<rect x="557.33" y="611.06" width="16.07" height="16.07" fill="#d6da98"/>
<rect x="575.19" y="611.06" width="16.07" height="16.07" fill="#d6da98"/>
<rect x="593.06" y="611.06" width="16.07" height="16.07" fill="#c4d09f"/>
<rect x="610.92" y="611.06" width="16.07" height="16.07" fill="#c4d09f"/>
<rect x="628.79" y="611.06" width="16.07" height="16.07" fill="#8fb5bc"/>
<rect x="646.65" y="611.06" width="16.07" height="16.07" fill="#d6da98"/>
<rect x="664.52" y="611.06" width="16.07" height="16.07" fill="#c4d09f"/>
<rect x="682.38" y="611.06" width="16.07" height="16.07" fill="#a0beb4"/>
<rect x="503.74" y="628.92" width="16.07" height="16.07" fill="#d6da98"/>
<rect x="521.60" y="628.92" width="16.07" height="16.07" fill="#a0beb4"/>
<rect x="539.46" y="628.92" width="16.07" height="16.07" fill="#8fb5bc"/>
<rect x="557.33" y="628.92" width="16.07" height="16.07" fill="#d6da98"/>
<rect x="575.19" y="628.92" width="16.07" height="16.07" fill="#b0c7a9"/>
<rect x="593.06" y="628.92" width="16.07" height="16.07" fill="#c4d09f"/>
<rect x="610.92" y="628.92" width="16.07" height="16.07" fill="#c4d09f"/>
<rect x="628.79" y="628.92" width="16.07" height="16.07" fill="#b0c7a9"/>
<rect x="646.65" y="628.92" width="16.07" height="16.07" fill="#d6da98"/>
<rect x="664.52" y="628.92" width="16.07" height="16.07" fill="#b0c7a9"/>
<rect x="682.38" y="628.92" width="16.07" height="16.07" fill="#b0c7a9"/>
<rect x="360.81" y="646.79" width="16.07" height="16.07" fill="#c4d09f"/>
<rect x="503.74" y="646.79" width="16.07" height="16.07" fill="#a0beb4"/>
<rect x="521.60" y="646.79" width="16.07" height="16.07" fill="#a0beb4"/>
<rect x="539.46" y="646.79" width="16.07" height="16.07" fill="#8fb5bc"/>
<rect x="557.33" y="646.79" width="16.07" height="16.07" fill="#a0beb4"/>
<rect x="575.19" y="646.79" width="16.07" height="16.07" fill="#f1b060"/>
<rect x="593.06" y="646.79" width="16.07" height="16.07" fill="#c4d09f"/>
<rect x="610.92" y="646.79" width="16.07" height="16.07" fill="#b0c7a9"/>
<rect x="628.79" y="646.79" width="16.07" height="16.07" fill="#c4d09f"/>
<rect x="646.65" y="646.79" width="16.07" height="16.07" fill="#e6e18f"/>
<rect x="664.52" y="646.79" width="16.07" height="16.07" fill="#c4d09f"/>
<rect x="342.95" y="664.65" width="16.07" height="16.07" fill="#f58b40"/>
<rect x="360.81" y="664.65" width="16.07" height="16.07" fill="#f39e50"/>
<rect x="378.68" y="664.65" width="16.07" height="16.07" fill="#a0beb4"/>
<rect x="468.00" y="664.65" width="16.07" height="16.07" fill="#b0c7a9"/>
<rect x="485.87" y="664.65" width="16.07" height="16.07" fill="#b0c7a9"/>
<rect x="503.74" y="664.65" width="16.07" height="16.07" fill="#eed882"/>
<rect x="539.46" y="664.65" width="16.07" height="16.07" fill="#c4d09f"/>
<rect x="557.33" y="664.65" width="16.07" height="16.07" fill="#eed882"/>
<rect x="575.19" y="664.65" width="16.07" height="16.07" fill="#b0c7a9"/>
<rect x="593.06" y="664.65" width="16.07" height="16.07" fill="#c4d09f"/>
<rect x="610.92" y="664.65" width="16.07" height="16.07" fill="#e6e18f"/>
<rect x="646.65" y="664.65" width="16.07" height="16.07" fill="#a0beb4"/>
<rect x="664.52" y="664.65" width="16.07" height="16.07" fill="#b0c7a9"/>
<rect x="396.54" y="682.52" width="16.07" height="16.07" fill="#7babc4"/>
<rect x="450.14" y="682.52" width="16.07" height="16.07" fill="#c4d09f"/>
<rect x="468.00" y="682.52" width="16.07" height="16.07" fill="#c4d09f"/>
<rect x="485.87" y="682.52" width="16.07" height="16.07" fill="#a0beb4"/>
<rect x="503.74" y="682.52" width="16.07" height="16.07" fill="#6aa3cb"/>
<rect x="521.60" y="682.52" width="16.07" height="16.07" fill="#c4d09f"/>
<rect x="539.46" y="682.52" width="16.07" height="16.07" fill="#d6da98"/>
<rect x="557.33" y="682.52" width="16.07" height="16.07" fill="#d6da98"/>
<rect x="575.19" y="682.52" width="16.07" height="16.07" fill="#b0c7a9"/>
<rect x="593.06" y="682.52" width="16.07" height="16.07" fill="#a0beb4"/>
<rect x="610.92" y="682.52" width="16.07" height="16.07" fill="#b0c7a9"/>
<rect x="628.79" y="682.52" width="16.07" height="16.07" fill="#7babc4"/>
<rect x="396.54" y="700.38" width="16.07" height="16.07" fill="#6aa3cb"/>
<rect x="450.14" y="700.38" width="16.07" height="16.07" fill="#8fb5bc"/>
<rect x="468.00" y="700.38" width="16.07" height="16.07" fill="#7babc4"/>
<rect x="485.87" y="700.38" width="16.07" height="16.07" fill="#b0c7a9"/>
<rect x="503.74" y="700.38" width="16.07" height="16.07" fill="#8fb5bc"/>
<rect x="521.60" y="700.38" width="16.07" height="16.07" fill="#8fb5bc"/>
<rect x="539.46" y="700.38" width="16.07" height="16.07" fill="#c4d09f"/>
<rect x="557.33" y="700.38" width="16.07" height="16.07" fill="#8fb5bc"/>
<rect x="575.19" y="700.38" width="16.07" height="16.07" fill="#a0beb4"/>
<rect x="593.06" y="700.38" width="16.07" height="16.07" fill="#8fb5bc"/>
<rect x="610.92" y="700.38" width="16.07" height="16.07" fill="#b0c7a9"/>
<rect x="628.79" y="700.38" width="16.07" height="16.07" fill="#c4d09f"/>
<rect x="360.81" y="718.25" width="16.07" height="16.07" fill="#c4d09f"/>
<rect x="378.68" y="718.25" width="16.07" height="16.07" fill="#e6e18f"/>
<rect x="396.54" y="718.25" width="16.07" height="16.07" fill="#eed882"/>
<rect x="432.27" y="718.25" width="16.07" height="16.07" fill="#a0beb4"/>
<rect x="450.14" y="718.25" width="16.07" height="16.07" fill="#8fb5bc"/>
<rect x="468.00" y="718.25" width="16.07" height="16.07" fill="#7babc4"/>
<rect x="485.87" y="718.25" width="16.07" height="16.07" fill="#a0beb4"/>
<rect x="503.74" y="718.25" width="16.07" height="16.07" fill="#8fb5bc"/>
<rect x="521.60" y="718.25" width="16.07" height="16.07" fill="#b0c7a9"/>
<rect x="539.46" y="718.25" width="16.07" height="16.07" fill="#b0c7a9"/>
<rect x="557.33" y="718.25" width="16.07" height="16.07" fill="#b0c7a9"/>
<rect x="575.19" y="718.25" width="16.07" height="16.07" fill="#a0beb4"/>
<rect x="593.06" y="718.25" width="16.07" height="16.07" fill="#e6e18f"/>
<rect x="610.92" y="718.25" width="16.07" height="16.07" fill="#c4d09f"/>
<rect x="628.79" y="718.25" width="16.07" height="16.07" fill="#b0c7a9"/>
<rect x="432.27" y="736.11" width="16.07" height="16.07" fill="#b0c7a9"/>
<rect x="450.14" y="736.11" width="16.07" height="16.07" fill="#c4d09f"/>
<rect x="468.00" y="736.11" width="16.07" height="16.07" fill="#7babc4"/>
<rect x="485.87" y="736.11" width="16.07" height="16.07" fill="#a0beb4"/>
<rect x="503.74" y="736.11" width="16.07" height="16.07" fill="#7babc4"/>
<rect x="521.60" y="736.11" width="16.07" height="16.07" fill="#a0beb4"/>
<rect x="557.33" y="736.11" width="16.07" height="16.07" fill="#8fb5bc"/>
<rect x="575.19" y="736.11" width="16.07" height="16.07" fill="#c4d09f"/>
<rect x="593.06" y="736.11" width="16.07" height="16.07" fill="#d6da98"/>
<rect x="610.92" y="736.11" width="16.07" height="16.07" fill="#b0c7a9"/>
<rect x="628.79" y="736.11" width="16.07" height="16.07" fill="#c4d09f"/>
<rect x="468.00" y="753.98" width="16.07" height="16.07" fill="#8fb5bc"/>
<rect x="485.87" y="753.98" width="16.07" height="16.07" fill="#8fb5bc"/>
<rect x="503.74" y="753.98" width="16.07" height="16.07" fill="#7babc4"/>
<rect x="521.60" y="753.98" width="16.07" height="16.07" fill="#b0c7a9"/>
<rect x="539.46" y="753.98" width="16.07" height="16.07" fill="#d6da98"/>
<rect x="557.33" y="753.98" width="16.07" height="16.07" fill="#b0c7a9"/>
<rect x="575.19" y="753.98" width="16.07" height="16.07" fill="#d6da98"/>
<rect x="593.06" y="753.98" width="16.07" height="16.07" fill="#c4d09f"/>
<rect x="610.92" y="753.98" width="16.07" height="16.07" fill="#a0beb4"/>
<rect x="628.79" y="753.98" width="16.07" height="16.07" fill="#c4d09f"/>
<rect x="646.65" y="753.98" width="16.07" height="16.07" fill="#8fb5bc"/>
<rect x="414.41" y="771.84" width="16.07" height="16.07" fill="#a0beb4"/>
<rect x="468.00" y="771.84" width="16.07" height="16.07" fill="#c4d09f"/>
<rect x="485.87" y="771.84" width="16.07" height="16.07" fill="#7babc4"/>
<rect x="503.74" y="771.84" width="16.07" height="16.07" fill="#7babc4"/>
<rect x="521.60" y="771.84" width="16.07" height="16.07" fill="#a0beb4"/>
<rect x="539.46" y="771.84" width="16.07" height="16.07" fill="#c4d09f"/>
<rect x="557.33" y="771.84" width="16.07" height="16.07" fill="#b0c7a9"/>
<rect x="575.19" y="771.84" width="16.07" height="16.07" fill="#b0c7a9"/>
<rect x="593.06" y="771.84" width="16.07" height="16.07" fill="#c4d09f"/>
<rect x="610.92" y="771.84" width="16.07" height="16.07" fill="#e6e18f"/>
<rect x="628.79" y="771.84" width="16.07" height="16.07" fill="#8fb5bc"/>
<rect x="646.65" y="771.84" width="16.07" height="16.07" fill="#8fb5bc"/>
<rect x="664.52" y="771.84" width="16.07" height="16.07" fill="#b0c7a9"/>
<rect x="414.41" y="789.71" width="16.07" height="16.07" fill="#8fb5bc"/>
<rect x="432.27" y="789.71" width="16.07" height="16.07" fill="#a0beb4"/>
<rect x="468.00" y="789.71" width="16.07" height="16.07" fill="#d6da98"/>
<rect x="485.87" y="789.71" width="16.07" height="16.07" fill="#8fb5bc"/>
<rect x="503.74" y="789.71" width="16.07" height="16.07" fill="#b0c7a9"/>
<rect x="521.60" y="789.71" width="16.07" height="16.07" fill="#c4d09f"/>
<rect x="539.46" y="789.71" width="16.07" height="16.07" fill="#b0c7a9"/>
<rect x="557.33" y="789.71" width="16.07" height="16.07" fill="#d6da98"/>
<rect x="575.19" y="789.71" width="16.07" height="16.07" fill="#b0c7a9"/>
<rect x="593.06" y="789.71" width="16.07" height="16.07" fill="#c4d09f"/>
<rect x="610.92" y="789.71" width="16.07" height="16.07" fill="#e6e18f"/>
<rect x="628.79" y="789.71" width="16.07" height="16.07" fill="#7babc4"/>
<rect x="646.65" y="789.71" width="16.07" height="16.07" fill="#8fb5bc"/>
<rect x="682.38" y="789.71" width="16.07" height="16.07" fill="#b0c7a9"/>
<rect x="414.41" y="807.57" width="16.07" height="16.07" fill="#7babc4"/>
<rect x="450.14" y="807.57" width="16.07" height="16.07" fill="#8fb5bc"/>
<rect x="468.00" y="807.57" width="16.07" height="16.07" fill="#8fb5bc"/>
<rect x="485.87" y="807.57" width="16.07" height="16.07" fill="#6aa3cb"/>
<rect x="503.74" y="807.57" width="16.07" height="16.07" fill="#a0beb4"/>
<rect x="521.60" y="807.57" width="16.07" height="16.07" fill="#b0c7a9"/>
<rect x="539.46" y="807.57" width="16.07" height="16.07" fill="#a0beb4"/>
<rect x="557.33" y="807.57" width="16.07" height="16.07" fill="#b0c7a9"/>
<rect x="575.19" y="807.57" width="16.07" height="16.07" fill="#c4d09f"/>
<rect x="593.06" y="807.57" width="16.07" height="16.07" fill="#b0c7a9"/>
<rect x="610.92" y="807.57" width="16.07" height="16.07" fill="#d6da98"/>
<rect x="628.79" y="807.57" width="16.07" height="16.07" fill="#c4d09f"/>
<rect x="646.65" y="807.57" width="16.07" height="16.07" fill="#b0c7a9"/>
<rect x="414.41" y="825.44" width="16.07" height="16.07" fill="#a0beb4"/>
<rect x="432.27" y="825.44" width="16.07" height="16.07" fill="#a0beb4"/>
<rect x="450.14" y="825.44" width="16.07" height="16.07" fill="#8fb5bc"/>
<rect x="468.00" y="825.44" width="16.07" height="16.07" fill="#6aa3cb"/>
<rect x="485.87" y="825.44" width="16.07" height="16.07" fill="#8fb5bc"/>
<rect x="503.74" y="825.44" width="16.07" height="16.07" fill="#d6da98"/>
<rect x="521.60" y="825.44" width="16.07" height="16.07" fill="#8fb5bc"/>
<rect x="539.46" y="825.44" width="16.07" height="16.07" fill="#b0c7a9"/>
<rect x="557.33" y="825.44" width="16.07" height="16.07" fill="#d6da98"/>
<rect x="575.19" y="825.44" width="16.07" height="16.07" fill="#b0c7a9"/>
<rect x="593.06" y="825.44" width="16.07" height="16.07" fill="#b0c7a9"/>
<rect x="610.92" y="825.44" width="16.07" height="16.07" fill="#a0beb4"/>
<rect x="628.79" y="825.44" width="16.07" height="16.07" fill="#b0c7a9"/>
<rect x="646.65" y="825.44" width="16.07" height="16.07" fill="#b0c7a9"/>
<rect x="450.14" y="843.30" width="16.07" height="16.07" fill="#7babc4"/>
<rect x="468.00" y="843.30" width="16.07" height="16.07" fill="#b0c7a9"/>
<rect x="485.87" y="843.30" width="16.07" height="16.07" fill="#c4d09f"/>
<rect x="503.74" y="843.30" width="16.07" height="16.07" fill="#a0beb4"/>
<rect x="521.60" y="843.30" width="16.07" height="16.07" fill="#8fb5bc"/>
<rect x="539.46" y="843.30" width="16.07" height="16.07" fill="#c4d09f"/>
<rect x="557.33" y="843.30" width="16.07" height="16.07" fill="#6aa3cb"/>
<rect x="575.19" y="843.30" width="16.07" height="16.07" fill="#c4d09f"/>
<rect x="593.06" y="843.30" width="16.07" height="16.07" fill="#8fb5bc"/>
<rect x="610.92" y="843.30" width="16.07" height="16.07" fill="#b0c7a9"/>
<rect x="628.79" y="843.30" width="16.07" height="16.07" fill="#b0c7a9"/>
<rect x="646.65" y="843.30" width="16.07" height="16.07" fill="#b0c7a9"/>
<rect x="450.14" y="861.17" width="16.07" height="16.07" fill="#7babc4"/>
<rect x="468.00" y="861.17" width="16.07" height="16.07" fill="#7babc4"/>
<rect x="485.87" y="861.17" width="16.07" height="16.07" fill="#d6da98"/>
<rect x="521.60" y="861.17" width="16.07" height="16.07" fill="#a0beb4"/>
<rect x="539.46" y="861.17" width="16.07" height="16.07" fill="#a0beb4"/>
<rect x="557.33" y="861.17" width="16.07" height="16.07" fill="#8fb5bc"/>
<rect x="593.06" y="861.17" width="16.07" height="16.07" fill="#c4d09f"/>
<rect x="610.92" y="861.17" width="16.07" height="16.07" fill="#c4d09f"/>
<rect x="628.79" y="861.17" width="16.07" height="16.07" fill="#d6da98"/>
<rect x="432.27" y="879.03" width="16.07" height="16.07" fill="#a0beb4"/>
<rect x="450.14" y="879.03" width="16.07" height="16.07" fill="#7babc4"/>
<rect x="468.00" y="879.03" width="16.07" height="16.07" fill="#a0beb4"/>
<rect x="485.87" y="879.03" width="16.07" height="16.07" fill="#a0beb4"/>
<rect x="503.74" y="879.03" width="16.07" height="16.07" fill="#a0beb4"/>
<rect x="521.60" y="879.03" width="16.07" height="16.07" fill="#e6e18f"/>
<rect x="539.46" y="879.03" width="16.07" height="16.07" fill="#e6e18f"/>
<rect x="432.27" y="896.90" width="16.07" height="16.07" fill="#8fb5bc"/>
<rect x="468.00" y="896.90" width="16.07" height="16.07" fill="#7babc4"/>
<rect x="485.87" y="896.90" width="16.07" height="16.07" fill="#b0c7a9"/>
<rect x="557.33" y="896.90" width="16.07" height="16.07" fill="#c4d09f"/>
<rect x="593.06" y="896.90" width="16.07" height="16.07" fill="#f0c472"/>
<rect x="521.60" y="914.76" width="16.07" height="16.07" fill="#a0beb4"/>
<rect x="557.33" y="914.76" width="16.07" height="16.07" fill="#eed882"/>
<rect x="575.19" y="914.76" width="16.07" height="16.07" fill="#d6da98"/>
<rect x="593.06" y="914.76" width="16.07" height="16.07" fill="#c4d09f"/>
<rect x="539.46" y="932.63" width="16.07" height="16.07" fill="#c4d09f"/>
<rect x="575.19" y="932.63" width="16.07" height="16.07" fill="#d6da98"/>
<rect x="610.92" y="932.63" width="16.07" height="16.07" fill="#d6da98"/>
<rect x="539.46" y="950.49" width="16.07" height="16.07" fill="#a0beb4"/>
<rect x="557.33" y="950.49" width="16.07" height="16.07" fill="#d6da98"/>
<rect x="485.87" y="968.36" width="16.07" height="16.07" fill="#d6da98"/>
<rect x="503.74" y="968.36" width="16.07" height="16.07" fill="#8fb5bc"/>
<rect x="610.92" y="968.36" width="16.07" height="16.07" fill="#c4d09f"/>
<rect x="450.14" y="986.22" width="16.07" height="16.07" fill="#d6da98"/>
<rect x="468.00" y="986.22" width="16.07" height="16.07" fill="#eed882"/>
<rect x="485.87" y="986.22" width="16.07" height="16.07" fill="#d6da98"/>
<rect x="503.74" y="986.22" width="16.07" height="16.07" fill="#d6da98"/>
<rect x="521.60" y="986.22" width="16.07" height="16.07" fill="#b0c7a9"/>
<rect x="539.46" y="986.22" width="16.07" height="16.07" fill="#a0beb4"/>
<rect x="557.33" y="986.22" width="16.07" height="16.07" fill="#7babc4"/>
<rect x="575.19" y="986.22" width="16.07" height="16.07" fill="#d6da98"/>
<rect x="521.60" y="1004.09" width="16.07" height="16.07" fill="#f39e50"/>
<rect x="539.46" y="1004.09" width="16.07" height="16.07" fill="#b0c7a9"/>
<rect x="557.33" y="1004.09" width="16.07" height="16.07" fill="#b0c7a9"/>
</g>
<polygon points="395.6,56.0 398.8,56.0 398.8,52.8 409.4,52.0 412.6,52.0 412.6,48.7 413.4,39.0 419.9,39.0 419.9,36.5 427.2,36.5 427.2,34.1 428.0,24.4 434.0,24.4 434.0,23.8 439.9,23.8 439.9,23.3 445.9,23.3 445.9,22.7 447.5,22.7 447.5,20.3 469.5,20.3 471.1,20.3 471.1,17.0 477.6,17.0 477.6,15.4 484.1,15.4 484.1,8.9 485.7,8.9 485.7,6.5 498.7,6.5 499.5,20.3 513.3,20.3 517.4,20.3 517.4,24.4 517.4,34.1 513.3,34.1 513.3,36.5 506.0,36.5 506.0,39.8 502.8,39.8 502.8,42.2 500.3,42.2 500.3,48.7 499.5,59.3 501.9,59.3 501.9,61.7 502.8,61.7 502.8,69.8 519.8,69.8 521.4,69.8 521.4,65.8 524.7,65.8 524.7,60.1 534.4,59.3 537.7,59.3 537.7,53.6 538.5,48.7 545.8,48.7 546.6,59.3 549.0,59.3 549.0,56.0 562.8,55.2 564.5,55.2 564.5,52.0 573.4,52.8 575.0,52.8 575.0,56.0 588.0,56.0 588.8,65.8 592.1,65.8 592.1,64.2 596.1,64.2 596.1,60.1 609.1,60.1 610.6,60.1 610.6,66.0 616.7,66.0 616.7,65.0 622.7,65.0 622.7,64.0 628.8,64.0 628.8,63.0 630.4,63.0 630.4,60.7 638.0,60.7 638.0,58.5 640.2,58.5 640.2,55.4 645.6,55.4 645.6,38.0 648.6,38.0 648.6,34.9 660.0,34.9 663.8,34.9 663.8,40.2 668.3,41.0 669.8,41.0 669.8,38.0 680.5,38.0 682.0,38.0 682.0,41.3 698.7,41.3 699.5,34.9 708.6,34.9 713.1,34.9 713.1,40.2 730.6,41.0 731.3,38.0 742.0,38.0 742.7,54.7 748.8,54.7 748.8,56.9 749.6,63.0 745.8,63.0 745.8,64.5 745.0,77.4 742.7,77.4 742.7,79.7 743.5,83.5 745.8,83.5 745.8,85.0 745.8,94.9 752.6,94.9 754.1,94.9 754.1,91.9 767.0,91.9 768.5,91.9 768.5,94.9 783.7,94.9 786.8,94.9 786.8,98.7 792.8,98.7 792.8,103.2 797.4,103.2 797.4,107.8 799.7,107.8 799.7,110.8 799.7,120.0 795.9,120.0 795.9,123.0 789.6,123.0 789.6,127.4 787.7,127.4 787.7,134.3 784.6,134.3 784.6,136.2 783.7,136.2 783.7,140.8 782.7,140.8 782.7,145.5 780.8,145.5 780.8,147.4 780.8,155.5 770.9,155.5 769.6,155.5 769.6,162.3 765.3,162.3 765.3,169.8 763.4,169.8 763.4,172.9 757.1,173.6 755.9,173.6 755.9,180.4 745.9,181.0 744.7,181.0 744.7,184.2 732.2,184.8 729.7,184.8 729.7,189.1 727.2,189.1 727.2,194.7 722.3,194.7 722.3,199.7 717.3,199.7 717.3,202.8 716.6,215.3 713.5,215.3 713.5,218.4 712.3,218.4 712.3,223.4 709.2,223.4 709.2,226.5 693.0,227.1 692.3,229.6 697.3,229.6 697.3,235.9 702.3,235.9 702.3,239.0 702.9,248.3 708.5,248.3 708.5,252.7 709.2,275.8 706.1,275.8 706.1,278.2 706.7,283.8 709.8,283.8 709.8,287.0 709.8,293.8 713.5,293.8 713.5,295.7 713.5,302.5 709.8,302.5 709.8,304.4 707.9,304.4 707.9,313.1 706.0,313.1 706.0,315.6 709.8,315.6 709.8,319.4 713.5,319.4 713.5,321.9 713.4,330.6 709.7,330.6 709.7,332.5 708.4,332.5 708.4,338.1 705.9,338.1 705.9,339.9 705.9,346.8 709.7,346.8 709.7,350.5 713.4,350.5 713.4,353.6 716.5,353.6 716.5,357.4 714.0,357.4 714.0,361.1 712.8,361.1 712.8,366.1 709.7,366.1 709.7,368.6 703.4,368.6 703.4,374.8 702.8,380.4 692.2,381.1 689.7,381.1 689.7,382.9 686.0,382.9 686.0,384.8 682.3,384.8 682.3,387.9 681.0,387.9 681.0,389.2 681.0,405.4 696.0,406.0 696.6,412.2 699.7,412.2 699.7,414.1 700.3,419.7 703.4,419.7 703.4,421.0 704.1,427.2 705.9,427.2 705.9,429.7 703.4,429.7 703.4,431.5 703.4,445.3 700.3,445.3 700.3,446.5 699.7,457.7 697.2,457.7 697.2,459.6 696.6,467.1 689.1,467.7 689.1,486.4 686.6,486.4 686.6,488.2 686.0,498.2 678.5,498.2 678.5,499.5 677.9,502.6 670.4,502.0 667.9,502.0 667.9,499.5 661.9,499.5 661.9,500.5 655.9,500.5 655.9,501.6 649.9,501.6 649.9,502.6 648.6,502.6 648.6,498.8 642.4,498.8 640.5,498.8 640.5,502.0 636.1,502.0 636.1,504.4 619.9,504.4 618.7,504.4 618.7,502.6 606.2,503.2 606.9,505.7 610.0,505.7 610.0,510.7 615.0,510.7 615.0,516.9 621.2,516.9 621.2,523.1 626.8,523.1 626.8,524.4 628.0,524.4 628.0,530.6 634.9,530.6 634.9,531.9 641.7,531.9 641.7,534.4 641.7,552.4 638.6,552.4 638.6,554.3 641.1,554.3 641.1,561.2 646.1,561.2 646.1,563.6 649.9,563.6 649.9,567.4 652.3,567.4 652.3,573.6 649.9,573.6 649.9,581.1 649.9,584.8 656.1,584.8 656.1,591.1 666.7,591.7 667.3,605.4 674.2,606.0 674.8,602.3 684.7,602.3 689.7,602.3 689.7,607.3 695.3,607.3 695.3,612.9 696.0,631.0 692.2,631.0 692.2,632.2 689.7,632.2 689.7,637.8 686.0,637.8 686.0,641.5 686.0,659.6 679.1,660.2 677.9,660.2 677.9,666.5 671.0,666.5 671.0,668.3 666.1,668.3 666.1,672.7 660.4,672.7 660.4,677.7 659.8,684.5 649.9,685.2 649.2,698.9 652.3,698.9 652.3,700.7 652.3,712.0 648.6,712.0 648.6,714.4 645.5,714.4 645.5,718.2 644.9,726.9 642.4,726.9 642.4,728.8 643.0,738.1 648.5,738.1 648.5,742.5 649.7,742.5 649.7,746.9 654.7,746.9 654.7,751.2 656.6,751.2 656.6,758.7 662.8,758.7 662.8,763.1 664.1,763.1 664.1,769.3 669.7,769.3 669.7,773.6 670.9,773.6 670.9,779.9 674.0,779.9 674.0,781.7 674.7,787.4 684.6,787.4 685.2,784.2 695.2,783.6 695.8,779.9 703.3,779.9 703.3,791.1 700.2,791.1 700.2,792.3 699.6,792.3 699.6,799.1 699.0,799.1 699.0,806.0 696.5,806.0 696.5,807.3 696.5,819.1 693.4,819.1 693.4,821.0 688.4,821.0 688.4,826.6 681.5,826.6 678.4,826.6 678.4,822.9 674.0,822.9 674.0,821.0 674.0,829.7 653.5,830.4 654.1,834.7 655.3,834.7 655.3,841.0 652.2,841.0 652.2,847.2 649.7,847.2 649.7,849.7 649.7,857.8 646.0,857.8 646.0,862.1 644.1,862.1 644.1,867.1 638.5,867.1 638.5,872.1 633.5,872.1 633.5,874.0 628.5,874.0 628.5,877.1 627.9,877.1 627.9,882.1 627.3,882.1 627.3,887.1 624.2,887.1 624.2,888.9 624.2,900.8 621.1,900.8 621.1,902.6 616.7,902.6 616.7,905.8 616.1,910.7 613.0,910.7 613.0,912.6 613.6,918.2 617.3,918.2 617.3,922.0 621.1,922.0 621.1,925.7 623.6,925.7 623.6,927.6 624.2,940.6 627.3,940.6 627.3,942.5 627.5,942.5 627.5,948.9 627.8,948.9 627.8,955.3 628.0,955.3 628.0,961.7 628.2,961.7 628.2,968.1 627.1,968.1 627.1,970.7 628.7,970.7 628.7,976.5 630.8,976.5 630.8,978.7 631.4,994.0 614.4,994.6 613.3,994.6 613.3,997.2 605.9,997.2 605.9,998.8 599.6,998.8 599.6,1007.3 592.7,1007.3 592.7,1008.9 587.9,1008.9 587.9,1014.2 582.6,1014.2 582.6,1016.3 577.3,1016.3 577.3,1022.6 571.0,1022.6 571.0,1027.9 563.6,1027.9 563.6,1030.6 559.3,1030.6 559.3,1035.3 558.8,1038.5 548.7,1038.5 548.7,1034.8 542.4,1034.8 542.4,1033.8 536.0,1033.8 536.0,1030.0 531.8,1030.0 531.8,1026.3 527.5,1026.3 527.5,1020.5 521.2,1020.5 521.2,1018.4 513.8,1018.4 513.8,1015.7 512.7,1015.7 512.7,1013.1 507.3,1013.1 507.3,1013.5 501.8,1013.5 501.8,1013.8 496.4,1013.8 496.4,1014.2 495.3,1014.2 495.3,1016.3 485.8,1016.3 482.6,1016.3 482.6,1012.6 480.5,1012.6 480.5,1009.4 477.8,1010.0 477.3,1013.2 460.9,1013.2 459.8,1013.2 459.8,1009.4 449.7,1008.9 448.7,1008.9 448.7,1005.7 434.9,1005.7 434.4,1013.2 420.6,1013.7 419.6,1013.7 419.6,1015.8 407.4,1016.3 405.3,1016.3 405.3,1019.0 402.1,1019.0 402.1,1022.7 395.7,1022.7 395.7,1023.8 392.5,1023.8 392.5,1028.0 391.5,1028.0 391.5,1031.2 384.6,1031.2 384.1,1027.5 377.2,1026.9 377.2,1016.9 380.4,1016.9 380.4,1015.3 382.0,1015.3 382.0,1008.9 385.1,1008.9 385.1,1003.1 387.8,1003.1 387.8,1001.0 388.3,988.8 391.5,988.8 391.5,986.7 395.7,986.7 395.7,983.0 395.7,963.9 398.9,963.9 398.9,961.8 400.0,961.8 400.0,956.0 403.1,956.0 403.1,953.8 405.3,953.8 405.3,949.1 406.8,949.1 406.8,947.5 406.7,926.9 409.8,926.9 409.8,924.4 409.1,919.4 406.7,919.4 406.7,918.2 406.7,888.9 409.8,888.9 409.8,887.0 409.8,883.3 406.7,883.3 406.7,882.0 406.0,845.9 399.2,845.9 399.2,844.6 395.4,844.6 395.4,840.9 395.4,830.9 398.6,830.9 398.6,828.4 399.2,823.5 402.3,823.5 402.3,822.2 403.5,822.2 403.5,813.5 406.0,813.5 406.0,811.6 406.7,802.9 409.8,802.9 409.8,801.6 409.8,763.0 406.7,762.4 406.7,752.7 404.7,752.7 404.7,751.7 402.7,751.7 402.7,747.8 398.8,747.8 398.8,743.8 393.8,743.8 393.8,738.9 389.9,738.9 389.9,734.9 387.9,734.9 382.0,734.9 382.0,738.9 377.0,738.9 377.0,743.8 376.0,743.8 376.0,746.3 360.2,746.3 359.2,746.3 359.2,748.8 354.2,748.8 354.2,750.0 349.3,750.0 349.3,751.2 347.3,751.2 347.3,752.2 345.4,752.2 345.4,749.7 342.4,749.7 342.4,747.3 342.4,742.3 344.9,742.3 344.9,740.9 344.9,717.1 342.4,717.1 342.4,715.1 341.9,707.2 338.4,707.2 338.4,704.3 335.5,704.3 335.5,700.3 335.0,696.9 332.5,696.9 332.5,695.4 330.5,695.4 330.5,698.3 324.6,698.3 323.1,698.3 323.1,695.4 303.3,695.4 302.4,695.4 302.4,691.9 298.9,691.9 298.9,690.4 298.9,686.5 302.4,686.5 302.4,685.0 302.4,682.5 298.4,682.5 298.4,681.5 298.9,666.2 302.9,666.2 302.9,663.7 305.8,663.7 305.8,661.3 306.3,652.4 309.8,652.4 309.8,650.9 309.6,613.6 315.6,613.6 315.6,608.9 316.2,608.9 316.2,604.1 316.8,604.1 316.8,599.4 320.9,599.4 320.9,592.8 323.9,592.8 323.9,591.0 323.9,574.4 320.9,574.4 320.9,573.2 320.3,573.2 320.3,568.5 319.7,568.5 319.7,563.7 312.6,563.7 312.6,562.5 312.6,556.0 326.9,556.0 328.1,556.0 328.1,553.0 334.0,553.0 334.0,551.8 342.3,551.8 342.3,544.7 342.3,538.1 348.3,538.1 348.3,532.8 353.6,532.8 353.6,528.0 359.0,528.0 359.0,523.2 361.4,523.2 361.4,517.9 363.1,517.9 363.1,516.1 363.1,499.5 366.1,499.5 366.1,498.3 366.7,485.2 370.9,485.2 370.9,482.8 373.2,482.8 373.2,478.1 373.8,478.1 373.8,473.0 374.4,473.0 374.4,467.9 377.4,467.9 377.4,466.8 378.0,456.6 381.6,456.6 381.6,455.5 382.2,455.5 382.2,450.8 382.8,450.8 382.8,446.0 383.9,446.0 383.9,441.4 385.0,441.4 385.0,436.9 388.1,436.9 388.1,428.1 391.8,428.1 391.8,426.9 393.1,426.9 393.1,421.6 394.3,421.6 394.3,416.3 394.9,416.3 394.9,409.5 395.5,409.5 395.5,402.6 388.1,402.6 388.1,392.0 391.8,392.0 391.8,390.7 392.4,385.1 395.5,385.1 395.5,383.3 396.2,373.3 399.3,373.3 399.3,372.1 399.9,359.6 403.0,359.6 403.0,358.4 403.6,345.3 406.8,345.3 406.8,344.0 407.4,331.6 410.5,331.6 410.5,330.3 411.1,317.2 413.0,317.2 413.0,316.0 413.6,292.3 416.7,292.3 416.7,291.1 417.4,281.1 420.5,280.5 421.1,267.4 424.2,267.4 424.2,266.1 424.8,253.1 427.3,253.1 427.3,251.8 427.3,216.6 423.8,216.6 423.8,215.1 423.1,206.7 418.1,206.7 418.1,198.2 417.4,198.2 417.4,192.5 416.7,192.5 416.7,186.9 416.0,186.9 416.0,181.2 412.5,181.2 412.5,179.8 412.5,167.1 409.0,167.1 409.0,164.3 406.1,164.3 406.1,158.6 406.1,150.2 409.7,150.2 409.7,147.3 409.7,141.7 406.1,141.7 406.1,140.3 405.4,121.2 401.9,121.2 401.9,119.1 401.2,105.7 396.9,105.7 396.9,102.1 395.5,102.1 395.5,97.9 392.0,97.9 392.0,93.7 391.3,90.1 392.0,81.0 394.8,81.0 394.8,79.5 395.5,57.0" fill="none" stroke="#000" stroke-width="3" stroke-linejoin="round" marker-start="url(#dot)" marker-mid="url(#dot)"/>
<polygon points="368.1,681.5 371.6,681.5 371.6,683.5 368.1,683.5 368.1,686.5 368.1,696.9 356.2,696.9 356.2,692.4 359.2,692.4 359.2,691.4 360.2,691.4 360.2,688.9 363.2,688.9 363.2,687.5 365.1,687.5 365.1,684.0 368.1,684.0" fill="none" stroke="#000" stroke-width="3" stroke-linejoin="round" marker-start="url(#dot)" marker-mid="url(#dot)"/>
<rect x="787.2" y="109.4" width="5.2" height="5.2" fill="#111"/>
<rect x="409.2" y="738.2" width="5.2" height="5.2" fill="#111"/>
<clipPath id="clip2"><polygon points="1008.6,56.0 1011.8,52.8 1022.4,52.0 1025.6,48.7 1026.4,39.0 1032.9,36.5 1040.2,34.1 1041.0,24.4 1058.9,22.7 1060.5,20.3 1082.5,20.3 1084.1,17.0 1090.6,15.4 1097.1,8.9 1098.7,6.5 1111.7,6.5 1112.5,20.3 1126.3,20.3 1130.4,24.4 1130.4,34.1 1126.3,36.5 1119.0,39.8 1115.8,42.2 1113.3,48.7 1112.5,59.3 1114.9,61.7 1115.8,69.8 1132.8,69.8 1134.4,65.8 1137.7,60.1 1147.4,59.3 1150.7,53.6 1151.5,48.7 1158.8,48.7 1159.6,59.3 1162.0,56.0 1175.8,55.2 1177.5,52.0 1186.4,52.8 1188.0,56.0 1201.0,56.0 1201.8,65.8 1205.1,64.2 1209.1,60.1 1222.1,60.1 1223.6,66.0 1241.8,63.0 1243.4,60.7 1251.0,58.5 1253.2,55.4 1258.6,55.4 1258.6,38.0 1261.6,34.9 1273.0,34.9 1276.8,40.2 1281.3,41.0 1282.8,38.0 1293.5,38.0 1295.0,41.3 1311.7,41.3 1312.5,34.9 1321.6,34.9 1326.1,40.2 1343.6,41.0 1344.3,38.0 1355.0,38.0 1355.7,54.7 1361.8,56.9 1362.6,63.0 1358.8,64.5 1358.0,77.4 1355.7,79.7 1356.5,83.5 1358.8,85.0 1358.8,94.9 1365.6,94.9 1367.1,91.9 1380.0,91.9 1381.5,94.9 1396.7,94.9 1399.8,98.7 1405.8,103.2 1410.4,107.8 1412.7,110.8 1412.7,120.0 1408.9,123.0 1402.6,127.4 1400.7,134.3 1397.6,136.2 1395.7,145.5 1393.8,147.4 1393.8,155.5 1383.9,155.5 1382.6,162.3 1378.3,169.8 1376.4,172.9 1370.1,173.6 1368.9,180.4 1358.9,181.0 1357.7,184.2 1345.2,184.8 1342.7,189.1 1340.2,194.7 1335.3,199.7 1330.3,202.8 1329.6,215.3 1326.5,218.4 1325.3,223.4 1322.2,226.5 1306.0,227.1 1305.3,229.6 1310.3,235.9 1315.3,239.0 1315.9,248.3 1321.5,252.7 1322.2,275.8 1319.1,278.2 1319.7,283.8 1322.8,287.0 1322.8,293.8 1326.5,295.7 1326.5,302.5 1322.8,304.4 1320.9,313.1 1319.0,315.6 1322.8,319.4 1326.5,321.9 1326.4,330.6 1322.7,332.5 1321.4,338.1 1318.9,339.9 1318.9,346.8 1322.7,350.5 1326.4,353.6 1329.5,357.4 1327.0,361.1 1325.8,366.1 1322.7,368.6 1316.4,374.8 1315.8,380.4 1305.2,381.1 1302.7,382.9 1299.0,384.8 1295.3,387.9 1294.0,389.2 1294.0,405.4 1309.0,406.0 1309.6,412.2 1312.7,414.1 1313.3,419.7 1316.4,421.0 1317.1,427.2 1318.9,429.7 1316.4,431.5 1316.4,445.3 1313.3,446.5 1312.7,457.7 1310.2,459.6 1309.6,467.1 1302.1,467.7 1302.1,486.4 1299.6,488.2 1299.0,498.2 1291.5,499.5 1290.9,502.6 1283.4,502.0 1280.9,499.5 1262.9,502.6 1261.6,498.8 1255.4,498.8 1253.5,502.0 1249.1,504.4 1232.9,504.4 1231.7,502.6 1219.2,503.2 1219.9,505.7 1223.0,510.7 1228.0,516.9 1234.2,523.1 1239.8,524.4 1241.0,530.6 1247.9,531.9 1254.7,534.4 1254.7,552.4 1251.6,554.3 1254.1,561.2 1259.1,563.6 1262.9,567.4 1265.3,573.6 1262.9,581.1 1262.9,584.8 1269.1,591.1 1279.7,591.7 1280.3,605.4 1287.2,606.0 1287.8,602.3 1297.7,602.3 1302.7,607.3 1308.3,612.9 1309.0,631.0 1305.2,632.2 1302.7,637.8 1299.0,641.5 1299.0,659.6 1292.1,660.2 1290.9,666.5 1284.0,668.3 1279.1,672.7 1273.4,677.7 1272.8,684.5 1262.9,685.2 1262.2,698.9 1265.3,700.7 1265.3,712.0 1261.6,714.4 1258.5,718.2 1257.9,726.9 1255.4,728.8 1256.0,738.1 1261.5,742.5 1262.7,746.9 1267.7,751.2 1269.6,758.7 1275.8,763.1 1277.1,769.3 1282.7,773.6 1283.9,779.9 1287.0,781.7 1287.7,787.4 1297.6,787.4 1298.2,784.2 1308.2,783.6 1308.8,779.9 1316.3,779.9 1316.3,791.1 1313.2,792.3 1312.0,806.0 1309.5,807.3 1309.5,819.1 1306.4,821.0 1301.4,826.6 1294.5,826.6 1291.4,822.9 1287.0,821.0 1287.0,829.7 1266.5,830.4 1267.1,834.7 1268.3,841.0 1265.2,847.2 1262.7,849.7 1262.7,857.8 1259.0,862.1 1257.1,867.1 1251.5,872.1 1246.5,874.0 1241.5,877.1 1240.3,887.1 1237.2,888.9 1237.2,900.8 1234.1,902.6 1229.7,905.8 1229.1,910.7 1226.0,912.6 1226.6,918.2 1230.3,922.0 1234.1,925.7 1236.6,927.6 1237.2,940.6 1240.3,942.5 1241.2,968.1 1240.1,970.7 1241.7,976.5 1243.8,978.7 1244.4,994.0 1227.4,994.6 1226.3,997.2 1218.9,998.8 1212.6,1007.3 1205.7,1008.9 1200.9,1014.2 1195.6,1016.3 1190.3,1022.6 1184.0,1027.9 1176.6,1030.6 1172.3,1035.3 1171.8,1038.5 1161.7,1038.5 1161.7,1034.8 1155.4,1033.8 1149.0,1030.0 1144.8,1026.3 1140.5,1020.5 1134.2,1018.4 1126.8,1015.7 1125.7,1013.1 1109.4,1014.2 1108.3,1016.3 1098.8,1016.3 1095.6,1012.6 1093.5,1009.4 1090.8,1010.0 1090.3,1013.2 1073.9,1013.2 1072.8,1009.4 1062.7,1008.9 1061.7,1005.7 1047.9,1005.7 1047.4,1013.2 1033.6,1013.7 1032.6,1015.8 1020.4,1016.3 1018.3,1019.0 1015.1,1022.7 1008.7,1023.8 1005.5,1028.0 1004.5,1031.2 997.6,1031.2 997.1,1027.5 990.2,1026.9 990.2,1016.9 993.4,1015.3 995.0,1008.9 998.1,1003.1 1000.8,1001.0 1001.3,988.8 1004.5,986.7 1008.7,983.0 1008.7,963.9 1011.9,961.8 1013.0,956.0 1016.1,953.8 1018.3,949.1 1019.8,947.5 1019.7,926.9 1022.8,924.4 1022.1,919.4 1019.7,918.2 1019.7,888.9 1022.8,887.0 1022.8,883.3 1019.7,882.0 1019.0,845.9 1012.2,844.6 1008.4,840.9 1008.4,830.9 1011.6,828.4 1012.2,823.5 1015.3,822.2 1016.5,813.5 1019.0,811.6 1019.7,802.9 1022.8,801.6 1022.8,763.0 1019.7,762.4 1019.7,752.7 1017.7,751.7 1015.7,747.8 1011.8,743.8 1006.8,738.9 1002.9,734.9 1000.9,734.9 995.0,738.9 990.0,743.8 989.0,746.3 973.2,746.3 972.2,748.8 962.3,751.2 960.3,752.2 958.4,749.7 955.4,747.3 955.4,742.3 957.9,740.9 957.9,717.1 955.4,715.1 954.9,707.2 951.4,704.3 948.5,700.3 948.0,696.9 945.5,695.4 943.5,698.3 937.6,698.3 936.1,695.4 916.3,695.4 915.4,691.9 911.9,690.4 911.9,686.5 915.4,685.0 915.4,682.5 911.4,681.5 911.9,666.2 915.9,663.7 918.8,661.3 919.3,652.4 922.8,650.9 922.6,613.6 928.6,608.9 929.8,599.4 933.9,592.8 936.9,591.0 936.9,574.4 933.9,573.2 932.7,563.7 925.6,562.5 925.6,556.0 939.9,556.0 941.1,553.0 947.0,551.8 955.3,544.7 955.3,538.1 961.3,532.8 972.0,523.2 974.4,517.9 976.1,516.1 976.1,499.5 979.1,498.3 979.7,485.2 983.9,482.8 986.2,478.1 987.4,467.9 990.4,466.8 991.0,456.6 994.6,455.5 995.8,446.0 998.0,436.9 1001.1,428.1 1004.8,426.9 1007.3,416.3 1008.5,402.6 1001.1,402.6 1001.1,392.0 1004.8,390.7 1005.4,385.1 1008.5,383.3 1009.2,373.3 1012.3,372.1 1012.9,359.6 1016.0,358.4 1016.6,345.3 1019.8,344.0 1020.4,331.6 1023.5,330.3 1024.1,317.2 1026.0,316.0 1026.6,292.3 1029.7,291.1 1030.4,281.1 1033.5,280.5 1034.1,267.4 1037.2,266.1 1037.8,253.1 1040.3,251.8 1040.3,216.6 1036.8,215.1 1036.1,206.7 1031.1,198.2 1029.0,181.2 1025.5,179.8 1025.5,167.1 1022.0,164.3 1019.1,158.6 1019.1,150.2 1022.7,147.3 1022.7,141.7 1019.1,140.3 1018.4,121.2 1014.9,119.1 1014.2,105.7 1009.9,102.1 1008.5,97.9 1005.0,93.7 1004.3,90.1 1005.0,81.0 1007.8,79.5 1008.5,57.0"/></clipPath>
<g clip-path="url(#clip2)">
<rect x="1081.01" y="3.65" width="16.07" height="16.07" fill="#8fb5bc"/>
<rect x="1098.87" y="3.65" width="16.07" height="16.07" fill="#8fb5bc"/>
<rect x="1027.41" y="21.51" width="16.07" height="16.07" fill="#eed882"/>
<rect x="1045.28" y="21.51" width="16.07" height="16.07" fill="#7babc4"/>
<rect x="1063.14" y="21.51" width="16.07" height="16.07" fill="#6aa3cb"/>
<rect x="1081.01" y="21.51" width="16.07" height="16.07" fill="#a0beb4"/>
<rect x="1098.87" y="21.51" width="16.07" height="16.07" fill="#6aa3cb"/>
<rect x="1027.41" y="39.38" width="16.07" height="16.07" fill="#a0beb4"/>
<rect x="1063.14" y="57.24" width="16.07" height="16.07" fill="#6aa3cb"/>
<rect x="1206.06" y="57.24" width="16.07" height="16.07" fill="#8fb5bc"/>
<rect x="1223.92" y="57.24" width="16.07" height="16.07" fill="#7babc4"/>
<rect x="1259.65" y="57.24" width="16.07" height="16.07" fill="#a0beb4"/>
<rect x="1313.25" y="57.24" width="16.07" height="16.07" fill="#a0beb4"/>
<rect x="1331.12" y="57.24" width="16.07" height="16.07" fill="#7babc4"/>
<rect x="1045.28" y="75.11" width="16.07" height="16.07" fill="#6aa3cb"/>
<rect x="1063.14" y="75.11" width="16.07" height="16.07" fill="#6aa3cb"/>
<rect x="1206.06" y="75.11" width="16.07" height="16.07" fill="#d6da98"/>
<rect x="1223.92" y="75.11" width="16.07" height="16.07" fill="#6aa3cb"/>
<rect x="1241.79" y="75.11" width="16.07" height="16.07" fill="#7babc4"/>
<rect x="1259.65" y="75.11" width="16.07" height="16.07" fill="#8fb5bc"/>
<rect x="1277.52" y="75.11" width="16.07" height="16.07" fill="#7babc4"/>
<rect x="1313.25" y="75.11" width="16.07" height="16.07" fill="#8fb5bc"/>
<rect x="1331.12" y="75.11" width="16.07" height="16.07" fill="#8fb5bc"/>
<rect x="1027.41" y="92.97" width="16.07" height="16.07" fill="#c4d09f"/>
<rect x="1045.28" y="92.97" width="16.07" height="16.07" fill="#7babc4"/>
<rect x="1063.14" y="92.97" width="16.07" height="16.07" fill="#8fb5bc"/>
<rect x="1081.01" y="92.97" width="16.07" height="16.07" fill="#a0beb4"/>
<rect x="1188.19" y="92.97" width="16.07" height="16.07" fill="#c4d09f"/>
<rect x="1206.06" y="92.97" width="16.07" height="16.07" fill="#6aa3cb"/>
<rect x="1223.92" y="92.97" width="16.07" height="16.07" fill="#8fb5bc"/>
<rect x="1241.79" y="92.97" width="16.07" height="16.07" fill="#a0beb4"/>
<rect x="1259.65" y="92.97" width="16.07" height="16.07" fill="#a0beb4"/>
<rect x="1277.52" y="92.97" width="16.07" height="16.07" fill="#a0beb4"/>
<rect x="1313.25" y="92.97" width="16.07" height="16.07" fill="#8fb5bc"/>
<rect x="1331.12" y="92.97" width="16.07" height="16.07" fill="#a0beb4"/>
<rect x="1348.98" y="92.97" width="16.07" height="16.07" fill="#7babc4"/>
<rect x="1384.71" y="92.97" width="16.07" height="16.07" fill="#7babc4"/>
<rect x="1045.28" y="110.84" width="16.07" height="16.07" fill="#c4d09f"/>
<rect x="1063.14" y="110.84" width="16.07" height="16.07" fill="#f0c472"/>
<rect x="1081.01" y="110.84" width="16.07" height="16.07" fill="#c4d09f"/>
<rect x="1188.19" y="110.84" width="16.07" height="16.07" fill="#8fb5bc"/>
<rect x="1206.06" y="110.84" width="16.07" height="16.07" fill="#6aa3cb"/>
<rect x="1223.92" y="110.84" width="16.07" height="16.07" fill="#b0c7a9"/>
<rect x="1241.79" y="110.84" width="16.07" height="16.07" fill="#b0c7a9"/>
<rect x="1277.52" y="110.84" width="16.07" height="16.07" fill="#a0beb4"/>
<rect x="1295.38" y="110.84" width="16.07" height="16.07" fill="#a0beb4"/>
<rect x="1313.25" y="110.84" width="16.07" height="16.07" fill="#8fb5bc"/>
<rect x="1331.12" y="110.84" width="16.07" height="16.07" fill="#a0beb4"/>
<rect x="1348.98" y="110.84" width="16.07" height="16.07" fill="#7babc4"/>
<rect x="1384.71" y="110.84" width="16.07" height="16.07" fill="#c4d09f"/>
<rect x="1402.58" y="110.84" width="16.07" height="16.07" fill="#a0beb4"/>
<rect x="1027.41" y="128.70" width="16.07" height="16.07" fill="#8fb5bc"/>
<rect x="1045.28" y="128.70" width="16.07" height="16.07" fill="#e6e18f"/>
<rect x="1063.14" y="128.70" width="16.07" height="16.07" fill="#f0c472"/>
<rect x="1081.01" y="128.70" width="16.07" height="16.07" fill="#eed882"/>
<rect x="1098.87" y="128.70" width="16.07" height="16.07" fill="#b0c7a9"/>
<rect x="1134.60" y="128.70" width="16.07" height="16.07" fill="#a0beb4"/>
<rect x="1152.47" y="128.70" width="16.07" height="16.07" fill="#a0beb4"/>
<rect x="1206.06" y="128.70" width="16.07" height="16.07" fill="#8fb5bc"/>
<rect x="1223.92" y="128.70" width="16.07" height="16.07" fill="#8fb5bc"/>
<rect x="1241.79" y="128.70" width="16.07" height="16.07" fill="#a0beb4"/>
<rect x="1259.65" y="128.70" width="16.07" height="16.07" fill="#eed882"/>
<rect x="1295.38" y="128.70" width="16.07" height="16.07" fill="#8fb5bc"/>
<rect x="1313.25" y="128.70" width="16.07" height="16.07" fill="#8fb5bc"/>
<rect x="1331.12" y="128.70" width="16.07" height="16.07" fill="#a0beb4"/>
<rect x="1348.98" y="128.70" width="16.07" height="16.07" fill="#7babc4"/>
<rect x="1366.85" y="128.70" width="16.07" height="16.07" fill="#b0c7a9"/>
<rect x="1384.71" y="128.70" width="16.07" height="16.07" fill="#8fb5bc"/>
<rect x="1045.28" y="146.57" width="16.07" height="16.07" fill="#d6da98"/>
<rect x="1063.14" y="146.57" width="16.07" height="16.07" fill="#e6e18f"/>
<rect x="1081.01" y="146.57" width="16.07" height="16.07" fill="#f39e50"/>
<rect x="1098.87" y="146.57" width="16.07" height="16.07" fill="#e6e18f"/>
<rect x="1116.74" y="146.57" width="16.07" height="16.07" fill="#d6da98"/>
<rect x="1134.60" y="146.57" width="16.07" height="16.07" fill="#c4d09f"/>
<rect x="1152.47" y="146.57" width="16.07" height="16.07" fill="#7babc4"/>
<rect x="1206.06" y="146.57" width="16.07" height="16.07" fill="#7babc4"/>
<rect x="1223.92" y="146.57" width="16.07" height="16.07" fill="#7babc4"/>
<rect x="1241.79" y="146.57" width="16.07" height="16.07" fill="#b0c7a9"/>
<rect x="1259.65" y="146.57" width="16.07" height="16.07" fill="#7babc4"/>
<rect x="1277.52" y="146.57" width="16.07" height="16.07" fill="#8fb5bc"/>
<rect x="1295.38" y="146.57" width="16.07" height="16.07" fill="#b0c7a9"/>
<rect x="1348.98" y="146.57" width="16.07" height="16.07" fill="#a0beb4"/>
<rect x="1366.85" y="146.57" width="16.07" height="16.07" fill="#8fb5bc"/>
<rect x="1384.71" y="146.57" width="16.07" height="16.07" fill="#7babc4"/>
<rect x="1081.01" y="164.44" width="16.07" height="16.07" fill="#eed882"/>
<rect x="1098.87" y="164.44" width="16.07" height="16.07" fill="#f1b060"/>
<rect x="1116.74" y="164.44" width="16.07" height="16.07" fill="#d6da98"/>
<rect x="1170.33" y="164.44" width="16.07" height="16.07" fill="#8fb5bc"/>
<rect x="1188.19" y="164.44" width="16.07" height="16.07" fill="#6aa3cb"/>
<rect x="1206.06" y="164.44" width="16.07" height="16.07" fill="#a0beb4"/>
<rect x="1223.92" y="164.44" width="16.07" height="16.07" fill="#c4d09f"/>
<rect x="1241.79" y="164.44" width="16.07" height="16.07" fill="#8fb5bc"/>
<rect x="1259.65" y="164.44" width="16.07" height="16.07" fill="#8fb5bc"/>
<rect x="1277.52" y="164.44" width="16.07" height="16.07" fill="#b0c7a9"/>
<rect x="1295.38" y="164.44" width="16.07" height="16.07" fill="#b0c7a9"/>
<rect x="1331.12" y="164.44" width="16.07" height="16.07" fill="#a0beb4"/>
<rect x="1348.98" y="164.44" width="16.07" height="16.07" fill="#8fb5bc"/>
<rect x="1366.85" y="164.44" width="16.07" height="16.07" fill="#8fb5bc"/>
<rect x="1063.14" y="182.30" width="16.07" height="16.07" fill="#e6e18f"/>
<rect x="1081.01" y="182.30" width="16.07" height="16.07" fill="#eed882"/>
<rect x="1098.87" y="182.30" width="16.07" height="16.07" fill="#e6e18f"/>
<rect x="1116.74" y="182.30" width="16.07" height="16.07" fill="#a0beb4"/>
<rect x="1152.47" y="182.30" width="16.07" height="16.07" fill="#7babc4"/>
<rect x="1170.33" y="182.30" width="16.07" height="16.07" fill="#b0c7a9"/>
<rect x="1188.19" y="182.30" width="16.07" height="16.07" fill="#a0beb4"/>
<rect x="1206.06" y="182.30" width="16.07" height="16.07" fill="#d6da98"/>
<rect x="1223.92" y="182.30" width="16.07" height="16.07" fill="#8fb5bc"/>
<rect x="1241.79" y="182.30" width="16.07" height="16.07" fill="#8fb5bc"/>
<rect x="1259.65" y="182.30" width="16.07" height="16.07" fill="#e6e18f"/>
<rect x="1277.52" y="182.30" width="16.07" height="16.07" fill="#e6e18f"/>
<rect x="1295.38" y="182.30" width="16.07" height="16.07" fill="#b0c7a9"/>
<rect x="1313.25" y="182.30" width="16.07" height="16.07" fill="#8fb5bc"/>
<rect x="1331.12" y="182.30" width="16.07" height="16.07" fill="#8fb5bc"/>
<rect x="1081.01" y="200.16" width="16.07" height="16.07" fill="#8fb5bc"/>
<rect x="1098.87" y="200.16" width="16.07" height="16.07" fill="#c4d09f"/>
<rect x="1116.74" y="200.16" width="16.07" height="16.07" fill="#8fb5bc"/>
<rect x="1134.60" y="200.16" width="16.07" height="16.07" fill="#b0c7a9"/>
<rect x="1152.47" y="200.16" width="16.07" height="16.07" fill="#d6da98"/>
<rect x="1170.33" y="200.16" width="16.07" height="16.07" fill="#eed882"/>
<rect x="1188.19" y="200.16" width="16.07" height="16.07" fill="#a0beb4"/>
<rect x="1206.06" y="200.16" width="16.07" height="16.07" fill="#7babc4"/>
<rect x="1223.92" y="200.16" width="16.07" height="16.07" fill="#8fb5bc"/>
<rect x="1241.79" y="200.16" width="16.07" height="16.07" fill="#8fb5bc"/>
<rect x="1259.65" y="200.16" width="16.07" height="16.07" fill="#d6da98"/>
<rect x="1277.52" y="200.16" width="16.07" height="16.07" fill="#a0beb4"/>
<rect x="1295.38" y="200.16" width="16.07" height="16.07" fill="#b0c7a9"/>
<rect x="1313.25" y="200.16" width="16.07" height="16.07" fill="#a0beb4"/>
<rect x="1098.87" y="218.03" width="16.07" height="16.07" fill="#8fb5bc"/>
<rect x="1134.60" y="218.03" width="16.07" height="16.07" fill="#6aa3cb"/>
<rect x="1152.47" y="218.03" width="16.07" height="16.07" fill="#6aa3cb"/>
<rect x="1170.33" y="218.03" width="16.07" height="16.07" fill="#7babc4"/>
<rect x="1206.06" y="218.03" width="16.07" height="16.07" fill="#8fb5bc"/>
<rect x="1223.92" y="218.03" width="16.07" height="16.07" fill="#6aa3cb"/>
<rect x="1241.79" y="218.03" width="16.07" height="16.07" fill="#e6e18f"/>
<rect x="1259.65" y="218.03" width="16.07" height="16.07" fill="#b0c7a9"/>
<rect x="1277.52" y="218.03" width="16.07" height="16.07" fill="#d6da98"/>
<rect x="1295.38" y="218.03" width="16.07" height="16.07" fill="#b0c7a9"/>
<rect x="1313.25" y="218.03" width="16.07" height="16.07" fill="#a0beb4"/>
<rect x="1188.19" y="235.89" width="16.07" height="16.07" fill="#6aa3cb"/>
<rect x="1206.06" y="235.89" width="16.07" height="16.07" fill="#b0c7a9"/>
<rect x="1223.92" y="235.89" width="16.07" height="16.07" fill="#6aa3cb"/>
<rect x="1241.79" y="235.89" width="16.07" height="16.07" fill="#c4d09f"/>
<rect x="1259.65" y="235.89" width="16.07" height="16.07" fill="#c4d09f"/>
<rect x="1277.52" y="235.89" width="16.07" height="16.07" fill="#e6e18f"/>
<rect x="1295.38" y="235.89" width="16.07" height="16.07" fill="#e6e18f"/>
<rect x="1206.06" y="253.76" width="16.07" height="16.07" fill="#8fb5bc"/>
<rect x="1223.92" y="253.76" width="16.07" height="16.07" fill="#7babc4"/>
<rect x="1241.79" y="253.76" width="16.07" height="16.07" fill="#b0c7a9"/>
<rect x="1259.65" y="253.76" width="16.07" height="16.07" fill="#b0c7a9"/>
<rect x="1277.52" y="253.76" width="16.07" height="16.07" fill="#c4d09f"/>
<rect x="1295.38" y="253.76" width="16.07" height="16.07" fill="#a0beb4"/>
<rect x="1313.25" y="253.76" width="16.07" height="16.07" fill="#7babc4"/>
<rect x="1134.60" y="271.62" width="16.07" height="16.07" fill="#b0c7a9"/>
<rect x="1170.33" y="271.62" width="16.07" height="16.07" fill="#8fb5bc"/>
<rect x="1188.19" y="271.62" width="16.07" height="16.07" fill="#b0c7a9"/>
<rect x="1241.79" y="271.62" width="16.07" height="16.07" fill="#b0c7a9"/>
<rect x="1259.65" y="271.62" width="16.07" height="16.07" fill="#b0c7a9"/>
<rect x="1277.52" y="271.62" width="16.07" height="16.07" fill="#b0c7a9"/>
<rect x="1295.38" y="271.62" width="16.07" height="16.07" fill="#d6da98"/>
<rect x="1313.25" y="271.62" width="16.07" height="16.07" fill="#a0beb4"/>
<rect x="1152.47" y="289.49" width="16.07" height="16.07" fill="#e6e18f"/>
<rect x="1170.33" y="289.49" width="16.07" height="16.07" fill="#b0c7a9"/>
<rect x="1188.19" y="289.49" width="16.07" height="16.07" fill="#c4d09f"/>
<rect x="1206.06" y="289.49" width="16.07" height="16.07" fill="#b0c7a9"/>
<rect x="1241.79" y="289.49" width="16.07" height="16.07" fill="#a0beb4"/>
<rect x="1259.65" y="289.49" width="16.07" height="16.07" fill="#b0c7a9"/>
<rect x="1277.52" y="289.49" width="16.07" height="16.07" fill="#a0beb4"/>
<rect x="1295.38" y="289.49" width="16.07" height="16.07" fill="#a0beb4"/>
<rect x="1063.14" y="307.35" width="16.07" height="16.07" fill="#d6da98"/>
<rect x="1116.74" y="307.35" width="16.07" height="16.07" fill="#c4d09f"/>
<rect x="1134.60" y="307.35" width="16.07" height="16.07" fill="#b0c7a9"/>
<rect x="1152.47" y="307.35" width="16.07" height="16.07" fill="#d6da98"/>
<rect x="1170.33" y="307.35" width="16.07" height="16.07" fill="#c4d09f"/>
<rect x="1241.79" y="307.35" width="16.07" height="16.07" fill="#7babc4"/>
<rect x="1277.52" y="307.35" width="16.07" height="16.07" fill="#b0c7a9"/>
<rect x="1045.28" y="325.22" width="16.07" height="16.07" fill="#a0beb4"/>
<rect x="1063.14" y="325.22" width="16.07" height="16.07" fill="#a0beb4"/>
<rect x="1116.74" y="325.22" width="16.07" height="16.07" fill="#7babc4"/>
<rect x="1134.60" y="325.22" width="16.07" height="16.07" fill="#b0c7a9"/>
<rect x="1152.47" y="325.22" width="16.07" height="16.07" fill="#eed882"/>
<rect x="1170.33" y="325.22" width="16.07" height="16.07" fill="#e6e18f"/>
<rect x="1188.19" y="325.22" width="16.07" height="16.07" fill="#8fb5bc"/>
<rect x="1206.06" y="325.22" width="16.07" height="16.07" fill="#6aa3cb"/>
<rect x="1277.52" y="325.22" width="16.07" height="16.07" fill="#8fb5bc"/>
<rect x="1045.28" y="343.08" width="16.07" height="16.07" fill="#a0beb4"/>
<rect x="1063.14" y="343.08" width="16.07" height="16.07" fill="#e6e18f"/>
<rect x="1134.60" y="343.08" width="16.07" height="16.07" fill="#c4d09f"/>
<rect x="1152.47" y="343.08" width="16.07" height="16.07" fill="#c4d09f"/>
<rect x="1170.33" y="343.08" width="16.07" height="16.07" fill="#b0c7a9"/>
<rect x="1188.19" y="343.08" width="16.07" height="16.07" fill="#7babc4"/>
<rect x="1223.92" y="343.08" width="16.07" height="16.07" fill="#8fb5bc"/>
<rect x="1241.79" y="343.08" width="16.07" height="16.07" fill="#b0c7a9"/>
<rect x="1277.52" y="343.08" width="16.07" height="16.07" fill="#8fb5bc"/>
<rect x="1295.38" y="343.08" width="16.07" height="16.07" fill="#8fb5bc"/>
<rect x="1027.41" y="360.95" width="16.07" height="16.07" fill="#7babc4"/>
<rect x="1045.28" y="360.95" width="16.07" height="16.07" fill="#7babc4"/>
<rect x="1063.14" y="360.95" width="16.07" height="16.07" fill="#8fb5bc"/>
<rect x="1081.01" y="360.95" width="16.07" height="16.07" fill="#c4d09f"/>
<rect x="1170.33" y="360.95" width="16.07" height="16.07" fill="#c4d09f"/>
<rect x="1223.92" y="360.95" width="16.07" height="16.07" fill="#b0c7a9"/>
<rect x="1241.79" y="360.95" width="16.07" height="16.07" fill="#c4d09f"/>
<rect x="1045.28" y="378.81" width="16.07" height="16.07" fill="#6aa3cb"/>
<rect x="1063.14" y="378.81" width="16.07" height="16.07" fill="#d6da98"/>
<rect x="1081.01" y="378.81" width="16.07" height="16.07" fill="#d6da98"/>
<rect x="1206.06" y="378.81" width="16.07" height="16.07" fill="#8fb5bc"/>
<rect x="1223.92" y="378.81" width="16.07" height="16.07" fill="#eed882"/>
<rect x="1241.79" y="378.81" width="16.07" height="16.07" fill="#8fb5bc"/>
<rect x="1259.65" y="378.81" width="16.07" height="16.07" fill="#a0beb4"/>
<rect x="1045.28" y="396.68" width="16.07" height="16.07" fill="#a0beb4"/>
<rect x="1063.14" y="396.68" width="16.07" height="16.07" fill="#e6e18f"/>
<rect x="1081.01" y="396.68" width="16.07" height="16.07" fill="#b0c7a9"/>
<rect x="1206.06" y="396.68" width="16.07" height="16.07" fill="#d6da98"/>
<rect x="1223.92" y="396.68" width="16.07" height="16.07" fill="#8fb5bc"/>
<rect x="1259.65" y="396.68" width="16.07" height="16.07" fill="#8fb5bc"/>
<rect x="1045.28" y="414.54" width="16.07" height="16.07" fill="#6aa3cb"/>
<rect x="1063.14" y="414.54" width="16.07" height="16.07" fill="#8fb5bc"/>
<rect x="1081.01" y="414.54" width="16.07" height="16.07" fill="#8fb5bc"/>
<rect x="1223.92" y="414.54" width="16.07" height="16.07" fill="#eed882"/>
<rect x="1045.28" y="432.41" width="16.07" height="16.07" fill="#a0beb4"/>
<rect x="1063.14" y="432.41" width="16.07" height="16.07" fill="#a0beb4"/>
<rect x="1081.01" y="432.41" width="16.07" height="16.07" fill="#b0c7a9"/>
<rect x="1027.41" y="450.27" width="16.07" height="16.07" fill="#a0beb4"/>
<rect x="1081.01" y="450.27" width="16.07" height="16.07" fill="#c4d09f"/>
<rect x="1188.19" y="450.27" width="16.07" height="16.07" fill="#d6da98"/>
<rect x="1027.41" y="468.14" width="16.07" height="16.07" fill="#a0beb4"/>
<rect x="1045.28" y="468.14" width="16.07" height="16.07" fill="#8fb5bc"/>
<rect x="1063.14" y="468.14" width="16.07" height="16.07" fill="#d6da98"/>
<rect x="1081.01" y="468.14" width="16.07" height="16.07" fill="#c4d09f"/>
<rect x="1098.87" y="468.14" width="16.07" height="16.07" fill="#f1b060"/>
<rect x="1116.74" y="468.14" width="16.07" height="16.07" fill="#f0c472"/>
<rect x="1009.55" y="486.00" width="16.07" height="16.07" fill="#8fb5bc"/>
<rect x="1027.41" y="486.00" width="16.07" height="16.07" fill="#8fb5bc"/>
<rect x="1045.28" y="486.00" width="16.07" height="16.07" fill="#eed882"/>
<rect x="1063.14" y="486.00" width="16.07" height="16.07" fill="#eed882"/>
<rect x="1223.92" y="486.00" width="16.07" height="16.07" fill="#c4d09f"/>
<rect x="991.68" y="503.87" width="16.07" height="16.07" fill="#7babc4"/>
<rect x="1009.55" y="503.87" width="16.07" height="16.07" fill="#d6da98"/>
<rect x="1045.28" y="503.87" width="16.07" height="16.07" fill="#f0c472"/>
<rect x="1063.14" y="503.87" width="16.07" height="16.07" fill="#eed882"/>
<rect x="1081.01" y="503.87" width="16.07" height="16.07" fill="#f0c472"/>
<rect x="991.68" y="521.73" width="16.07" height="16.07" fill="#b0c7a9"/>
<rect x="1045.28" y="521.73" width="16.07" height="16.07" fill="#f0c472"/>
<rect x="1063.14" y="521.73" width="16.07" height="16.07" fill="#e6e18f"/>
<rect x="1116.74" y="521.73" width="16.07" height="16.07" fill="#e6e18f"/>
<rect x="955.95" y="539.60" width="16.07" height="16.07" fill="#8fb5bc"/>
<rect x="973.82" y="539.60" width="16.07" height="16.07" fill="#a0beb4"/>
<rect x="1045.28" y="539.60" width="16.07" height="16.07" fill="#e6e18f"/>
<rect x="1063.14" y="539.60" width="16.07" height="16.07" fill="#f1b060"/>
<rect x="1098.87" y="539.60" width="16.07" height="16.07" fill="#d6da98"/>
<rect x="955.95" y="557.46" width="16.07" height="16.07" fill="#8fb5bc"/>
<rect x="973.82" y="557.46" width="16.07" height="16.07" fill="#b0c7a9"/>
<rect x="991.68" y="557.46" width="16.07" height="16.07" fill="#d6da98"/>
<rect x="1009.55" y="557.46" width="16.07" height="16.07" fill="#b0c7a9"/>
<rect x="1027.41" y="557.46" width="16.07" height="16.07" fill="#f0c472"/>
<rect x="1045.28" y="557.46" width="16.07" height="16.07" fill="#d6da98"/>
<rect x="1223.92" y="557.46" width="16.07" height="16.07" fill="#c4d09f"/>
<rect x="938.09" y="575.33" width="16.07" height="16.07" fill="#a0beb4"/>
<rect x="955.95" y="575.33" width="16.07" height="16.07" fill="#b0c7a9"/>
<rect x="973.82" y="575.33" width="16.07" height="16.07" fill="#b0c7a9"/>
<rect x="991.68" y="575.33" width="16.07" height="16.07" fill="#b0c7a9"/>
<rect x="1009.55" y="575.33" width="16.07" height="16.07" fill="#f0c472"/>
<rect x="1027.41" y="575.33" width="16.07" height="16.07" fill="#e6e18f"/>
<rect x="1045.28" y="575.33" width="16.07" height="16.07" fill="#eed882"/>
<rect x="1063.14" y="575.33" width="16.07" height="16.07" fill="#d6da98"/>
<rect x="1116.74" y="575.33" width="16.07" height="16.07" fill="#a0beb4"/>
<rect x="1170.33" y="575.33" width="16.07" height="16.07" fill="#c4d09f"/>
<rect x="1188.19" y="575.33" width="16.07" height="16.07" fill="#c4d09f"/>
<rect x="1223.92" y="575.33" width="16.07" height="16.07" fill="#b0c7a9"/>
<rect x="1241.79" y="575.33" width="16.07" height="16.07" fill="#8fb5bc"/>
<rect x="938.09" y="593.19" width="16.07" height="16.07" fill="#a0beb4"/>
<rect x="955.95" y="593.19" width="16.07" height="16.07" fill="#8fb5bc"/>
<rect x="973.82" y="593.19" width="16.07" height="16.07" fill="#b0c7a9"/>
<rect x="991.68" y="593.19" width="16.07" height="16.07" fill="#b0c7a9"/>
<rect x="1009.55" y="593.19" width="16.07" height="16.07" fill="#f0c472"/>
<rect x="1027.41" y="593.19" width="16.07" height="16.07" fill="#d6da98"/>
<rect x="1045.28" y="593.19" width="16.07" height="16.07" fill="#f1b060"/>
<rect x="1063.14" y="593.19" width="16.07" height="16.07" fill="#b0c7a9"/>
<rect x="1134.60" y="593.19" width="16.07" height="16.07" fill="#a0beb4"/>
<rect x="1170.33" y="593.19" width="16.07" height="16.07" fill="#c4d09f"/>
<rect x="1188.19" y="593.19" width="16.07" height="16.07" fill="#b0c7a9"/>
<rect x="1223.92" y="593.19" width="16.07" height="16.07" fill="#d6da98"/>
<rect x="1241.79" y="593.19" width="16.07" height="16.07" fill="#8fb5bc"/>
<rect x="1259.65" y="593.19" width="16.07" height="16.07" fill="#a0beb4"/>
<rect x="920.22" y="611.06" width="16.07" height="16.07" fill="#b0c7a9"/>
<rect x="938.09" y="611.06" width="16.07" height="16.07" fill="#a0beb4"/>
<rect x="955.95" y="611.06" width="16.07" height="16.07" fill="#b0c7a9"/>
<rect x="973.82" y="611.06" width="16.07" height="16.07" fill="#c4d09f"/>
<rect x="991.68" y="611.06" width="16.07" height="16.07" fill="#7babc4"/>
<rect x="1009.55" y="611.06" width="16.07" height="16.07" fill="#c4d09f"/>
<rect x="1027.41" y="611.06" width="16.07" height="16.07" fill="#b0c7a9"/>
<rect x="1045.28" y="611.06" width="16.07" height="16.07" fill="#8fb5bc"/>
<rect x="1134.60" y="611.06" width="16.07" height="16.07" fill="#a0beb4"/>
<rect x="1152.47" y="611.06" width="16.07" height="16.07" fill="#d6da98"/>
<rect x="1170.33" y="611.06" width="16.07" height="16.07" fill="#d6da98"/>
<rect x="1188.19" y="611.06" width="16.07" height="16.07" fill="#c4d09f"/>
<rect x="1206.06" y="611.06" width="16.07" height="16.07" fill="#b0c7a9"/>
<rect x="1223.92" y="611.06" width="16.07" height="16.07" fill="#b0c7a9"/>
<rect x="1241.79" y="611.06" width="16.07" height="16.07" fill="#8fb5bc"/>
<rect x="1277.52" y="611.06" width="16.07" height="16.07" fill="#d6da98"/>
<rect x="920.22" y="628.92" width="16.07" height="16.07" fill="#c4d09f"/>
<rect x="938.09" y="628.92" width="16.07" height="16.07" fill="#a0beb4"/>
<rect x="955.95" y="628.92" width="16.07" height="16.07" fill="#d6da98"/>
<rect x="973.82" y="628.92" width="16.07" height="16.07" fill="#c4d09f"/>
<rect x="991.68" y="628.92" width="16.07" height="16.07" fill="#d6da98"/>
<rect x="1063.14" y="628.92" width="16.07" height="16.07" fill="#8fb5bc"/>
<rect x="1116.74" y="628.92" width="16.07" height="16.07" fill="#eed882"/>
<rect x="1134.60" y="628.92" width="16.07" height="16.07" fill="#c4d09f"/>
<rect x="1170.33" y="628.92" width="16.07" height="16.07" fill="#e6e18f"/>
<rect x="1188.19" y="628.92" width="16.07" height="16.07" fill="#b0c7a9"/>
<rect x="1206.06" y="628.92" width="16.07" height="16.07" fill="#b0c7a9"/>
<rect x="1223.92" y="628.92" width="16.07" height="16.07" fill="#b0c7a9"/>
<rect x="1259.65" y="628.92" width="16.07" height="16.07" fill="#e6e18f"/>
<rect x="1277.52" y="628.92" width="16.07" height="16.07" fill="#c4d09f"/>
<rect x="955.95" y="646.79" width="16.07" height="16.07" fill="#d6da98"/>
<rect x="973.82" y="646.79" width="16.07" height="16.07" fill="#d6da98"/>
<rect x="1027.41" y="646.79" width="16.07" height="16.07" fill="#7babc4"/>
<rect x="1063.14" y="646.79" width="16.07" height="16.07" fill="#b0c7a9"/>
<rect x="1170.33" y="646.79" width="16.07" height="16.07" fill="#a0beb4"/>
<rect x="1188.19" y="646.79" width="16.07" height="16.07" fill="#f58b40"/>
<rect x="1206.06" y="646.79" width="16.07" height="16.07" fill="#d6da98"/>
<rect x="1223.92" y="646.79" width="16.07" height="16.07" fill="#b0c7a9"/>
<rect x="1241.79" y="646.79" width="16.07" height="16.07" fill="#c4d09f"/>
<rect x="1259.65" y="646.79" width="16.07" height="16.07" fill="#eed882"/>
<rect x="1277.52" y="646.79" width="16.07" height="16.07" fill="#d6da98"/>
<rect x="991.68" y="664.65" width="16.07" height="16.07" fill="#8fb5bc"/>
<rect x="1009.55" y="664.65" width="16.07" height="16.07" fill="#d6da98"/>
<rect x="1027.41" y="664.65" width="16.07" height="16.07" fill="#d6da98"/>
<rect x="1045.28" y="664.65" width="16.07" height="16.07" fill="#c4d09f"/>
<rect x="1063.14" y="664.65" width="16.07" height="16.07" fill="#c4d09f"/>
<rect x="1152.47" y="664.65" width="16.07" height="16.07" fill="#b0c7a9"/>
<rect x="1188.19" y="664.65" width="16.07" height="16.07" fill="#d6da98"/>
<rect x="1206.06" y="664.65" width="16.07" height="16.07" fill="#c4d09f"/>
<rect x="1223.92" y="664.65" width="16.07" height="16.07" fill="#eed882"/>
<rect x="1259.65" y="664.65" width="16.07" height="16.07" fill="#8fb5bc"/>
<rect x="1009.55" y="682.52" width="16.07" height="16.07" fill="#7babc4"/>
<rect x="1027.41" y="682.52" width="16.07" height="16.07" fill="#8fb5bc"/>
<rect x="1045.28" y="682.52" width="16.07" height="16.07" fill="#b0c7a9"/>
<rect x="1063.14" y="682.52" width="16.07" height="16.07" fill="#d6da98"/>
<rect x="1081.01" y="682.52" width="16.07" height="16.07" fill="#c4d09f"/>
<rect x="1116.74" y="682.52" width="16.07" height="16.07" fill="#6aa3cb"/>
<rect x="1134.60" y="682.52" width="16.07" height="16.07" fill="#c4d09f"/>
<rect x="1152.47" y="682.52" width="16.07" height="16.07" fill="#c4d09f"/>
<rect x="1170.33" y="682.52" width="16.07" height="16.07" fill="#d6da98"/>
<rect x="1188.19" y="682.52" width="16.07" height="16.07" fill="#c4d09f"/>
<rect x="1206.06" y="682.52" width="16.07" height="16.07" fill="#c4d09f"/>
<rect x="1223.92" y="682.52" width="16.07" height="16.07" fill="#a0beb4"/>
<rect x="991.68" y="700.38" width="16.07" height="16.07" fill="#eed882"/>
<rect x="1009.55" y="700.38" width="16.07" height="16.07" fill="#6aa3cb"/>
<rect x="1027.41" y="700.38" width="16.07" height="16.07" fill="#7babc4"/>
<rect x="1045.28" y="700.38" width="16.07" height="16.07" fill="#e6e18f"/>
<rect x="1063.14" y="700.38" width="16.07" height="16.07" fill="#8fb5bc"/>
<rect x="1081.01" y="700.38" width="16.07" height="16.07" fill="#7babc4"/>
<rect x="1098.87" y="700.38" width="16.07" height="16.07" fill="#c4d09f"/>
<rect x="1116.74" y="700.38" width="16.07" height="16.07" fill="#a0beb4"/>
<rect x="1152.47" y="700.38" width="16.07" height="16.07" fill="#b0c7a9"/>
<rect x="1170.33" y="700.38" width="16.07" height="16.07" fill="#b0c7a9"/>
<rect x="1188.19" y="700.38" width="16.07" height="16.07" fill="#b0c7a9"/>
<rect x="1206.06" y="700.38" width="16.07" height="16.07" fill="#8fb5bc"/>
<rect x="1223.92" y="700.38" width="16.07" height="16.07" fill="#c4d09f"/>
<rect x="1241.79" y="700.38" width="16.07" height="16.07" fill="#b0c7a9"/>
<rect x="1259.65" y="700.38" width="16.07" height="16.07" fill="#d6da98"/>
<rect x="973.82" y="718.25" width="16.07" height="16.07" fill="#d6da98"/>
<rect x="991.68" y="718.25" width="16.07" height="16.07" fill="#eed882"/>
<rect x="1009.55" y="718.25" width="16.07" height="16.07" fill="#f1b060"/>
<rect x="1027.41" y="718.25" width="16.07" height="16.07" fill="#b0c7a9"/>
<rect x="1116.74" y="718.25" width="16.07" height="16.07" fill="#a0beb4"/>
<rect x="1134.60" y="718.25" width="16.07" height="16.07" fill="#c4d09f"/>
<rect x="1152.47" y="718.25" width="16.07" height="16.07" fill="#d6da98"/>
<rect x="1170.33" y="718.25" width="16.07" height="16.07" fill="#c4d09f"/>
<rect x="1188.19" y="718.25" width="16.07" height="16.07" fill="#b0c7a9"/>
<rect x="1206.06" y="718.25" width="16.07" height="16.07" fill="#e6e18f"/>
<rect x="1223.92" y="718.25" width="16.07" height="16.07" fill="#c4d09f"/>
<rect x="973.82" y="736.11" width="16.07" height="16.07" fill="#f1b060"/>
<rect x="1063.14" y="736.11" width="16.07" height="16.07" fill="#b0c7a9"/>
<rect x="1170.33" y="736.11" width="16.07" height="16.07" fill="#a0beb4"/>
<rect x="1188.19" y="736.11" width="16.07" height="16.07" fill="#c4d09f"/>
<rect x="1206.06" y="736.11" width="16.07" height="16.07" fill="#e6e18f"/>
<rect x="1223.92" y="736.11" width="16.07" height="16.07" fill="#c4d09f"/>
<rect x="1241.79" y="736.11" width="16.07" height="16.07" fill="#c4d09f"/>
<rect x="1063.14" y="753.98" width="16.07" height="16.07" fill="#c4d09f"/>
<rect x="1081.01" y="753.98" width="16.07" height="16.07" fill="#8fb5bc"/>
<rect x="1098.87" y="753.98" width="16.07" height="16.07" fill="#8fb5bc"/>
<rect x="1170.33" y="753.98" width="16.07" height="16.07" fill="#c4d09f"/>
<rect x="1206.06" y="753.98" width="16.07" height="16.07" fill="#d6da98"/>
<rect x="1223.92" y="753.98" width="16.07" height="16.07" fill="#c4d09f"/>
<rect x="1241.79" y="753.98" width="16.07" height="16.07" fill="#c4d09f"/>
<rect x="1259.65" y="753.98" width="16.07" height="16.07" fill="#8fb5bc"/>
<rect x="1027.41" y="771.84" width="16.07" height="16.07" fill="#c4d09f"/>
<rect x="1098.87" y="771.84" width="16.07" height="16.07" fill="#7babc4"/>
<rect x="1116.74" y="771.84" width="16.07" height="16.07" fill="#7babc4"/>
<rect x="1134.60" y="771.84" width="16.07" height="16.07" fill="#a0beb4"/>
<rect x="1152.47" y="771.84" width="16.07" height="16.07" fill="#d6da98"/>
<rect x="1170.33" y="771.84" width="16.07" height="16.07" fill="#b0c7a9"/>
<rect x="1188.19" y="771.84" width="16.07" height="16.07" fill="#b0c7a9"/>
<rect x="1241.79" y="771.84" width="16.07" height="16.07" fill="#a0beb4"/>
<rect x="1259.65" y="771.84" width="16.07" height="16.07" fill="#8fb5bc"/>
<rect x="1027.41" y="789.71" width="16.07" height="16.07" fill="#8fb5bc"/>
<rect x="1152.47" y="789.71" width="16.07" height="16.07" fill="#c4d09f"/>
<rect x="1170.33" y="789.71" width="16.07" height="16.07" fill="#e6e18f"/>
<rect x="1188.19" y="789.71" width="16.07" height="16.07" fill="#c4d09f"/>
<rect x="1206.06" y="789.71" width="16.07" height="16.07" fill="#e6e18f"/>
<rect x="1223.92" y="789.71" width="16.07" height="16.07" fill="#e6e18f"/>
<rect x="1259.65" y="789.71" width="16.07" height="16.07" fill="#a0beb4"/>
<rect x="1116.74" y="807.57" width="16.07" height="16.07" fill="#a0beb4"/>
<rect x="1134.60" y="807.57" width="16.07" height="16.07" fill="#c4d09f"/>
<rect x="1152.47" y="807.57" width="16.07" height="16.07" fill="#b0c7a9"/>
<rect x="1188.19" y="807.57" width="16.07" height="16.07" fill="#d6da98"/>
<rect x="1206.06" y="807.57" width="16.07" height="16.07" fill="#c4d09f"/>
<rect x="1223.92" y="807.57" width="16.07" height="16.07" fill="#e6e18f"/>
<rect x="1241.79" y="807.57" width="16.07" height="16.07" fill="#d6da98"/>
<rect x="1116.74" y="825.44" width="16.07" height="16.07" fill="#e6e18f"/>
<rect x="1134.60" y="825.44" width="16.07" height="16.07" fill="#8fb5bc"/>
<rect x="1152.47" y="825.44" width="16.07" height="16.07" fill="#c4d09f"/>
<rect x="1170.33" y="825.44" width="16.07" height="16.07" fill="#e6e18f"/>
<rect x="1188.19" y="825.44" width="16.07" height="16.07" fill="#c4d09f"/>
<rect x="1206.06" y="825.44" width="16.07" height="16.07" fill="#c4d09f"/>
<rect x="1223.92" y="825.44" width="16.07" height="16.07" fill="#a0beb4"/>
<rect x="1045.28" y="843.30" width="16.07" height="16.07" fill="#a0beb4"/>
<rect x="1116.74" y="843.30" width="16.07" height="16.07" fill="#b0c7a9"/>
<rect x="1134.60" y="843.30" width="16.07" height="16.07" fill="#a0beb4"/>
<rect x="1152.47" y="843.30" width="16.07" height="16.07" fill="#b0c7a9"/>
<rect x="1188.19" y="843.30" width="16.07" height="16.07" fill="#d6da98"/>
<rect x="1134.60" y="861.17" width="16.07" height="16.07" fill="#b0c7a9"/>
<rect x="1152.47" y="861.17" width="16.07" height="16.07" fill="#b0c7a9"/>
<rect x="1170.33" y="861.17" width="16.07" height="16.07" fill="#a0beb4"/>
<rect x="1027.41" y="879.03" width="16.07" height="16.07" fill="#a0beb4"/>
<rect x="1188.19" y="879.03" width="16.07" height="16.07" fill="#7babc4"/>
<rect x="1027.41" y="896.90" width="16.07" height="16.07" fill="#a0beb4"/>
<rect x="1188.19" y="896.90" width="16.07" height="16.07" fill="#c4d09f"/>
<rect x="1027.41" y="932.63" width="16.07" height="16.07" fill="#7babc4"/>
<rect x="1027.41" y="986.22" width="16.07" height="16.07" fill="#b0c7a9"/>
<rect x="1063.14" y="986.22" width="16.07" height="16.07" fill="#e6e18f"/>
<rect x="1116.74" y="986.22" width="16.07" height="16.07" fill="#d6da98"/>
<rect x="1027.41" y="1004.09" width="16.07" height="16.07" fill="#eed882"/>
<rect x="1063.14" y="1004.09" width="16.07" height="16.07" fill="#eed882"/>
<rect x="1081.01" y="1004.09" width="16.07" height="16.07" fill="#f58b40"/>
<rect x="1098.87" y="1004.09" width="16.07" height="16.07" fill="#f39e50"/>
</g>
<polygon points="1008.6,56.0 1011.8,56.0 1011.8,52.8 1022.4,52.0 1025.6,52.0 1025.6,48.7 1026.4,39.0 1032.9,39.0 1032.9,36.5 1040.2,36.5 1040.2,34.1 1041.0,24.4 1047.0,24.4 1047.0,23.8 1052.9,23.8 1052.9,23.3 1058.9,23.3 1058.9,22.7 1060.5,22.7 1060.5,20.3 1082.5,20.3 1084.1,20.3 1084.1,17.0 1090.6,17.0 1090.6,15.4 1097.1,15.4 1097.1,8.9 1098.7,8.9 1098.7,6.5 1111.7,6.5 1112.5,20.3 1126.3,20.3 1130.4,20.3 1130.4,24.4 1130.4,34.1 1126.3,34.1 1126.3,36.5 1119.0,36.5 1119.0,39.8 1115.8,39.8 1115.8,42.2 1113.3,42.2 1113.3,48.7 1112.5,59.3 1114.9,59.3 1114.9,61.7 1115.8,61.7 1115.8,69.8 1132.8,69.8 1134.4,69.8 1134.4,65.8 1137.7,65.8 1137.7,60.1 1147.4,59.3 1150.7,59.3 1150.7,53.6 1151.5,48.7 1158.8,48.7 1159.6,59.3 1162.0,59.3 1162.0,56.0 1175.8,55.2 1177.5,55.2 1177.5,52.0 1186.4,52.8 1188.0,52.8 1188.0,56.0 1201.0,56.0 1201.8,65.8 1205.1,65.8 1205.1,64.2 1209.1,64.2 1209.1,60.1 1222.1,60.1 1223.6,60.1 1223.6,66.0 1229.7,66.0 1229.7,65.0 1235.7,65.0 1235.7,64.0 1241.8,64.0 1241.8,63.0 1243.4,63.0 1243.4,60.7 1251.0,60.7 1251.0,58.5 1253.2,58.5 1253.2,55.4 1258.6,55.4 1258.6,38.0 1261.6,38.0 1261.6,34.9 1273.0,34.9 1276.8,34.9 1276.8,40.2 1281.3,41.0 1282.8,41.0 1282.8,38.0 1293.5,38.0 1295.0,38.0 1295.0,41.3 1311.7,41.3 1312.5,34.9 1321.6,34.9 1326.1,34.9 1326.1,40.2 1343.6,41.0 1344.3,38.0 1355.0,38.0 1355.7,54.7 1361.8,54.7 1361.8,56.9 1362.6,63.0 1358.8,63.0 1358.8,64.5 1358.0,77.4 1355.7,77.4 1355.7,79.7 1356.5,83.5 1358.8,83.5 1358.8,85.0 1358.8,94.9 1365.6,94.9 1367.1,94.9 1367.1,91.9 1380.0,91.9 1381.5,91.9 1381.5,94.9 1396.7,94.9 1399.8,94.9 1399.8,98.7 1405.8,98.7 1405.8,103.2 1410.4,103.2 1410.4,107.8 1412.7,107.8 1412.7,110.8 1412.7,120.0 1408.9,120.0 1408.9,123.0 1402.6,123.0 1402.6,127.4 1400.7,127.4 1400.7,134.3 1397.6,134.3 1397.6,136.2 1396.7,136.2 1396.7,140.8 1395.7,140.8 1395.7,145.5 1393.8,145.5 1393.8,147.4 1393.8,155.5 1383.9,155.5 1382.6,155.5 1382.6,162.3 1378.3,162.3 1378.3,169.8 1376.4,169.8 1376.4,172.9 1370.1,173.6 1368.9,173.6 1368.9,180.4 1358.9,181.0 1357.7,181.0 1357.7,184.2 1345.2,184.8 1342.7,184.8 1342.7,189.1 1340.2,189.1 1340.2,194.7 1335.3,194.7 1335.3,199.7 1330.3,199.7 1330.3,202.8 1329.6,215.3 1326.5,215.3 1326.5,218.4 1325.3,218.4 1325.3,223.4 1322.2,223.4 1322.2,226.5 1306.0,227.1 1305.3,229.6 1310.3,229.6 1310.3,235.9 1315.3,235.9 1315.3,239.0 1315.9,248.3 1321.5,248.3 1321.5,252.7 1322.2,275.8 1319.1,275.8 1319.1,278.2 1319.7,283.8 1322.8,283.8 1322.8,287.0 1322.8,293.8 1326.5,293.8 1326.5,295.7 1326.5,302.5 1322.8,302.5 1322.8,304.4 1320.9,304.4 1320.9,313.1 1319.0,313.1 1319.0,315.6 1322.8,315.6 1322.8,319.4 1326.5,319.4 1326.5,321.9 1326.4,330.6 1322.7,330.6 1322.7,332.5 1321.4,332.5 1321.4,338.1 1318.9,338.1 1318.9,339.9 1318.9,346.8 1322.7,346.8 1322.7,350.5 1326.4,350.5 1326.4,353.6 1329.5,353.6 1329.5,357.4 1327.0,357.4 1327.0,361.1 1325.8,361.1 1325.8,366.1 1322.7,366.1 1322.7,368.6 1316.4,368.6 1316.4,374.8 1315.8,380.4 1305.2,381.1 1302.7,381.1 1302.7,382.9 1299.0,382.9 1299.0,384.8 1295.3,384.8 1295.3,387.9 1294.0,387.9 1294.0,389.2 1294.0,405.4 1309.0,406.0 1309.6,412.2 1312.7,412.2 1312.7,414.1 1313.3,419.7 1316.4,419.7 1316.4,421.0 1317.1,427.2 1318.9,427.2 1318.9,429.7 1316.4,429.7 1316.4,431.5 1316.4,445.3 1313.3,445.3 1313.3,446.5 1312.7,457.7 1310.2,457.7 1310.2,459.6 1309.6,467.1 1302.1,467.7 1302.1,486.4 1299.6,486.4 1299.6,488.2 1299.0,498.2 1291.5,498.2 1291.5,499.5 1290.9,502.6 1283.4,502.0 1280.9,502.0 1280.9,499.5 1274.9,499.5 1274.9,500.5 1268.9,500.5 1268.9,501.6 1262.9,501.6 1262.9,502.6 1261.6,502.6 1261.6,498.8 1255.4,498.8 1253.5,498.8 1253.5,502.0 1249.1,502.0 1249.1,504.4 1232.9,504.4 1231.7,504.4 1231.7,502.6 1219.2,503.2 1219.9,505.7 1223.0,505.7 1223.0,510.7 1228.0,510.7 1228.0,516.9 1234.2,516.9 1234.2,523.1 1239.8,523.1 1239.8,524.4 1241.0,524.4 1241.0,530.6 1247.9,530.6 1247.9,531.9 1254.7,531.9 1254.7,534.4 1254.7,552.4 1251.6,552.4 1251.6,554.3 1254.1,554.3 1254.1,561.2 1259.1,561.2 1259.1,563.6 1262.9,563.6 1262.9,567.4 1265.3,567.4 1265.3,573.6 1262.9,573.6 1262.9,581.1 1262.9,584.8 1269.1,584.8 1269.1,591.1 1279.7,591.7 1280.3,605.4 1287.2,606.0 1287.8,602.3 1297.7,602.3 1302.7,602.3 1302.7,607.3 1308.3,607.3 1308.3,612.9 1309.0,631.0 1305.2,631.0 1305.2,632.2 1302.7,632.2 1302.7,637.8 1299.0,637.8 1299.0,641.5 1299.0,659.6 1292.1,660.2 1290.9,660.2 1290.9,666.5 1284.0,666.5 1284.0,668.3 1279.1,668.3 1279.1,672.7 1273.4,672.7 1273.4,677.7 1272.8,684.5 1262.9,685.2 1262.2,698.9 1265.3,698.9 1265.3,700.7 1265.3,712.0 1261.6,712.0 1261.6,714.4 1258.5,714.4 1258.5,718.2 1257.9,726.9 1255.4,726.9 1255.4,728.8 1256.0,738.1 1261.5,738.1 1261.5,742.5 1262.7,742.5 1262.7,746.9 1267.7,746.9 1267.7,751.2 1269.6,751.2 1269.6,758.7 1275.8,758.7 1275.8,763.1 1277.1,763.1 1277.1,769.3 1282.7,769.3 1282.7,773.6 1283.9,773.6 1283.9,779.9 1287.0,779.9 1287.0,781.7 1287.7,787.4 1297.6,787.4 1298.2,784.2 1308.2,783.6 1308.8,779.9 1316.3,779.9 1316.3,791.1 1313.2,791.1 1313.2,792.3 1312.6,792.3 1312.6,799.1 1312.0,799.1 1312.0,806.0 1309.5,806.0 1309.5,807.3 1309.5,819.1 1306.4,819.1 1306.4,821.0 1301.4,821.0 1301.4,826.6 1294.5,826.6 1291.4,826.6 1291.4,822.9 1287.0,822.9 1287.0,821.0 1287.0,829.7 1266.5,830.4 1267.1,834.7 1268.3,834.7 1268.3,841.0 1265.2,841.0 1265.2,847.2 1262.7,847.2 1262.7,849.7 1262.7,857.8 1259.0,857.8 1259.0,862.1 1257.1,862.1 1257.1,867.1 1251.5,867.1 1251.5,872.1 1246.5,872.1 1246.5,874.0 1241.5,874.0 1241.5,877.1 1240.9,877.1 1240.9,882.1 1240.3,882.1 1240.3,887.1 1237.2,887.1 1237.2,888.9 1237.2,900.8 1234.1,900.8 1234.1,902.6 1229.7,902.6 1229.7,905.8 1229.1,910.7 1226.0,910.7 1226.0,912.6 1226.6,918.2 1230.3,918.2 1230.3,922.0 1234.1,922.0 1234.1,925.7 1236.6,925.7 1236.6,927.6 1237.2,940.6 1240.3,940.6 1240.3,942.5 1240.5,942.5 1240.5,948.9 1240.8,948.9 1240.8,955.3 1241.0,955.3 1241.0,961.7 1241.2,961.7 1241.2,968.1 1240.1,968.1 1240.1,970.7 1241.7,970.7 1241.7,976.5 1243.8,976.5 1243.8,978.7 1244.4,994.0 1227.4,994.6 1226.3,994.6 1226.3,997.2 1218.9,997.2 1218.9,998.8 1212.6,998.8 1212.6,1007.3 1205.7,1007.3 1205.7,1008.9 1200.9,1008.9 1200.9,1014.2 1195.6,1014.2 1195.6,1016.3 1190.3,1016.3 1190.3,1022.6 1184.0,1022.6 1184.0,1027.9 1176.6,1027.9 1176.6,1030.6 1172.3,1030.6 1172.3,1035.3 1171.8,1038.5 1161.7,1038.5 1161.7,1034.8 1155.4,1034.8 1155.4,1033.8 1149.0,1033.8 1149.0,1030.0 1144.8,1030.0 1144.8,1026.3 1140.5,1026.3 1140.5,1020.5 1134.2,1020.5 1134.2,1018.4 1126.8,1018.4 1126.8,1015.7 1125.7,1015.7 1125.7,1013.1 1120.3,1013.1 1120.3,1013.5 1114.8,1013.5 1114.8,1013.8 1109.4,1013.8 1109.4,1014.2 1108.3,1014.2 1108.3,1016.3 1098.8,1016.3 1095.6,1016.3 1095.6,1012.6 1093.5,1012.6 1093.5,1009.4 1090.8,1010.0 1090.3,1013.2 1073.9,1013.2 1072.8,1013.2 1072.8,1009.4 1062.7,1008.9 1061.7,1008.9 1061.7,1005.7 1047.9,1005.7 1047.4,1013.2 1033.6,1013.7 1032.6,1013.7 1032.6,1015.8 1020.4,1016.3 1018.3,1016.3 1018.3,1019.0 1015.1,1019.0 1015.1,1022.7 1008.7,1022.7 1008.7,1023.8 1005.5,1023.8 1005.5,1028.0 1004.5,1028.0 1004.5,1031.2 997.6,1031.2 997.1,1027.5 990.2,1026.9 990.2,1016.9 993.4,1016.9 993.4,1015.3 995.0,1015.3 995.0,1008.9 998.1,1008.9 998.1,1003.1 1000.8,1003.1 1000.8,1001.0 1001.3,988.8 1004.5,988.8 1004.5,986.7 1008.7,986.7 1008.7,983.0 1008.7,963.9 1011.9,963.9 1011.9,961.8 1013.0,961.8 1013.0,956.0 1016.1,956.0 1016.1,953.8 1018.3,953.8 1018.3,949.1 1019.8,949.1 1019.8,947.5 1019.7,926.9 1022.8,926.9 1022.8,924.4 1022.1,919.4 1019.7,919.4 1019.7,918.2 1019.7,888.9 1022.8,888.9 1022.8,887.0 1022.8,883.3 1019.7,883.3 1019.7,882.0 1019.0,845.9 1012.2,845.9 1012.2,844.6 1008.4,844.6 1008.4,840.9 1008.4,830.9 1011.6,830.9 1011.6,828.4 1012.2,823.5 1015.3,823.5 1015.3,822.2 1016.5,822.2 1016.5,813.5 1019.0,813.5 1019.0,811.6 1019.7,802.9 1022.8,802.9 1022.8,801.6 1022.8,763.0 1019.7,762.4 1019.7,752.7 1017.7,752.7 1017.7,751.7 1015.7,751.7 1015.7,747.8 1011.8,747.8 1011.8,743.8 1006.8,743.8 1006.8,738.9 1002.9,738.9 1002.9,734.9 1000.9,734.9 995.0,734.9 995.0,738.9 990.0,738.9 990.0,743.8 989.0,743.8 989.0,746.3 973.2,746.3 972.2,746.3 972.2,748.8 967.2,748.8 967.2,750.0 962.3,750.0 962.3,751.2 960.3,751.2 960.3,752.2 958.4,752.2 958.4,749.7 955.4,749.7 955.4,747.3 955.4,742.3 957.9,742.3 957.9,740.9 957.9,717.1 955.4,717.1 955.4,715.1 954.9,707.2 951.4,707.2 951.4,704.3 948.5,704.3 948.5,700.3 948.0,696.9 945.5,696.9 945.5,695.4 943.5,695.4 943.5,698.3 937.6,698.3 936.1,698.3 936.1,695.4 916.3,695.4 915.4,695.4 915.4,691.9 911.9,691.9 911.9,690.4 911.9,686.5 915.4,686.5 915.4,685.0 915.4,682.5 911.4,682.5 911.4,681.5 911.9,666.2 915.9,666.2 915.9,663.7 918.8,663.7 918.8,661.3 919.3,652.4 922.8,652.4 922.8,650.9 922.6,613.6 928.6,613.6 928.6,608.9 929.2,608.9 929.2,604.1 929.8,604.1 929.8,599.4 933.9,599.4 933.9,592.8 936.9,592.8 936.9,591.0 936.9,574.4 933.9,574.4 933.9,573.2 933.3,573.2 933.3,568.5 932.7,568.5 932.7,563.7 925.6,563.7 925.6,562.5 925.6,556.0 939.9,556.0 941.1,556.0 941.1,553.0 947.0,553.0 947.0,551.8 955.3,551.8 955.3,544.7 955.3,538.1 961.3,538.1 961.3,532.8 966.6,532.8 966.6,528.0 972.0,528.0 972.0,523.2 974.4,523.2 974.4,517.9 976.1,517.9 976.1,516.1 976.1,499.5 979.1,499.5 979.1,498.3 979.7,485.2 983.9,485.2 983.9,482.8 986.2,482.8 986.2,478.1 986.8,478.1 986.8,473.0 987.4,473.0 987.4,467.9 990.4,467.9 990.4,466.8 991.0,456.6 994.6,456.6 994.6,455.5 995.2,455.5 995.2,450.8 995.8,450.8 995.8,446.0 996.9,446.0 996.9,441.4 998.0,441.4 998.0,436.9 1001.1,436.9 1001.1,428.1 1004.8,428.1 1004.8,426.9 1006.0,426.9 1006.0,421.6 1007.3,421.6 1007.3,416.3 1007.9,416.3 1007.9,409.5 1008.5,409.5 1008.5,402.6 1001.1,402.6 1001.1,392.0 1004.8,392.0 1004.8,390.7 1005.4,385.1 1008.5,385.1 1008.5,383.3 1009.2,373.3 1012.3,373.3 1012.3,372.1 1012.9,359.6 1016.0,359.6 1016.0,358.4 1016.6,345.3 1019.8,345.3 1019.8,344.0 1020.4,331.6 1023.5,331.6 1023.5,330.3 1024.1,317.2 1026.0,317.2 1026.0,316.0 1026.6,292.3 1029.7,292.3 1029.7,291.1 1030.4,281.1 1033.5,280.5 1034.1,267.4 1037.2,267.4 1037.2,266.1 1037.8,253.1 1040.3,253.1 1040.3,251.8 1040.3,216.6 1036.8,216.6 1036.8,215.1 1036.1,206.7 1031.1,206.7 1031.1,198.2 1030.4,198.2 1030.4,192.5 1029.7,192.5 1029.7,186.9 1029.0,186.9 1029.0,181.2 1025.5,181.2 1025.5,179.8 1025.5,167.1 1022.0,167.1 1022.0,164.3 1019.1,164.3 1019.1,158.6 1019.1,150.2 1022.7,150.2 1022.7,147.3 1022.7,141.7 1019.1,141.7 1019.1,140.3 1018.4,121.2 1014.9,121.2 1014.9,119.1 1014.2,105.7 1009.9,105.7 1009.9,102.1 1008.5,102.1 1008.5,97.9 1005.0,97.9 1005.0,93.7 1004.3,90.1 1005.0,81.0 1007.8,81.0 1007.8,79.5 1008.5,57.0" fill="none" stroke="#000" stroke-width="3" stroke-linejoin="round" marker-start="url(#dot)" marker-mid="url(#dot)"/>
<polygon points="981.1,681.5 984.6,681.5 984.6,683.5 981.1,683.5 981.1,686.5 981.1,696.9 969.2,696.9 969.2,692.4 972.2,692.4 972.2,691.4 973.2,691.4 973.2,688.9 976.2,688.9 976.2,687.5 978.1,687.5 978.1,684.0 981.1,684.0" fill="none" stroke="#000" stroke-width="3" stroke-linejoin="round" marker-start="url(#dot)" marker-mid="url(#dot)"/>
<rect x="1400.2" y="109.4" width="5.2" height="5.2" fill="#111"/>
<rect x="1022.2" y="738.2" width="5.2" height="5.2" fill="#111"/>
<path d="M359.3,1180.6 C371.1,1160.6 400.6,1149.8 417.4,1151.4 C408.7,1163.1 381.3,1181.0 359.3,1180.6Z" fill="#d5dcd2" stroke="#3e4248" stroke-width="1.8" stroke-linejoin="round"/>
<path d="M385.4,1201.5 C403.9,1186.0 437.7,1182.4 454.6,1187.4 C442.0,1196.1 408.0,1206.4 385.4,1201.5Z" fill="#d5dcd2" stroke="#3e4248" stroke-width="1.8" stroke-linejoin="round"/>
<path d="M393.9,1203.5 C411.0,1214.2 440.5,1215.6 454.6,1211.4 C443.0,1205.5 413.0,1199.1 393.9,1203.5Z" fill="#d5dcd2" stroke="#3e4248" stroke-width="1.8" stroke-linejoin="round"/>
<path d="M374.6,1202.6 C354.9,1196.7 329.8,1208.0 320.3,1219.6 C333.0,1222.0 361.1,1216.6 374.6,1202.6Z" fill="#d5dcd2" stroke="#3e4248" stroke-width="1.8" stroke-linejoin="round"/>
<path d="M408.0,1229.7 C428.2,1219.7 460.0,1223.4 474.4,1231.2 C461.0,1236.4 427.7,1238.6 408.0,1229.7Z" fill="#d5dcd2" stroke="#3e4248" stroke-width="1.8" stroke-linejoin="round"/>
<path d="M402.0,1232.6 C379.1,1224.7 347.4,1235.4 334.5,1247.4 C349.4,1250.9 383.9,1247.0 402.0,1232.6Z" fill="#d5dcd2" stroke="#3e4248" stroke-width="1.8" stroke-linejoin="round"/>
<path d="M412.2,1252.3 C406.4,1278.2 378.6,1302.0 360.0,1307.4 C365.2,1291.5 388.5,1261.2 412.2,1252.3Z" fill="#d5dcd2" stroke="#3e4248" stroke-width="1.8" stroke-linejoin="round"/>
<path d="M455.0,1268.0 C457.9,1280.6 472.0,1288.2 481.4,1287.7 C478.8,1280.2 467.0,1268.5 455.0,1268.0Z" fill="#d5dcd2" stroke="#3e4248" stroke-width="1.8" stroke-linejoin="round"/>
<path d="M430.6,1290.5 C436.0,1308.9 457.6,1320.8 471.5,1320.8 C466.9,1309.9 448.4,1292.1 430.6,1290.5Z" fill="#d5dcd2" stroke="#3e4248" stroke-width="1.8" stroke-linejoin="round"/>
<polygon points="307.9,1160.8 328.9,1169.0 353.9,1182.8 377.7,1203.6 391.8,1217.4 401.6,1231.2 410.0,1243.7 415.7,1256.0 419.2,1266.9 420.0,1279.1 424.2,1278.9 423.6,1266.1 420.1,1254.4 414.4,1241.3 406.0,1228.2 396.0,1213.8 381.7,1199.4 357.5,1177.8 331.7,1163.4 310.3,1154.6" fill="#d9c4ae" stroke="#3e4248" stroke-width="1.8" stroke-linejoin="round"/>
<path d="M406,1229 L399,1237" stroke="#43474d" stroke-width="4.6"/><path d="M406,1229 L399,1237" stroke="#d9c4ae" stroke-width="2.4"/>
<path d="M420,1262 L431,1263" stroke="#43474d" stroke-width="4.6"/><path d="M419,1262 L431,1263" stroke="#d9c4ae" stroke-width="2.4"/>
<ellipse cx="379" cy="1250.9" rx="21.2" ry="14.8" transform="rotate(-8 379 1250.9)" fill="#6d9a33" stroke="#3e4248" stroke-width="1.8" stroke-linejoin="round"/>
<ellipse cx="447.5" cy="1265.8" rx="19" ry="15.5" transform="rotate(10 447.5 1265.8)" fill="#6d9a33" stroke="#3e4248" stroke-width="1.8" stroke-linejoin="round"/>
<ellipse cx="415.8" cy="1300.4" rx="14.8" ry="21.2" transform="rotate(-5 415.8 1300.4)" fill="#6d9a33" stroke="#3e4248" stroke-width="1.8" stroke-linejoin="round"/>
<polygon points="950.1,1218.2 952.3,1213.1 954.6,1209.7 953.4,1207.5 954.6,1197.3 952.3,1192.8 947.8,1188.2 941.0,1186.0 934.2,1184.3 933.1,1187.1 930.8,1184.3 928.6,1187.7 924.1,1188.2 921.8,1191.6 918.4,1190.5 917.3,1193.9 913.9,1193.9 912.2,1196.2 917.3,1199.5 918.4,1202.9 915.0,1203.5 908.2,1200.7 906.0,1199.5 903.7,1202.9 899.2,1204.1 896.9,1207.5 892.4,1208.6 887.9,1210.8 891.3,1213.1 892.4,1216.5 895.8,1219.9 898.1,1223.3 902.6,1225.5 901.5,1228.9 904.9,1230.1 907.1,1232.3 906.0,1236.8 908.2,1239.1 903.7,1241.4 900.3,1243.1 904.9,1244.2 909.4,1245.9 913.9,1247.0 917.3,1247.6 934.2,1239.1" fill="#d5dcd0" stroke="#3e4248" stroke-width="1.5" stroke-linejoin="round"/>
<polygon points="986.2,1205.2 988.5,1200.7 993.0,1199.5 997.5,1201.8 999.8,1202.9 1003.2,1197.3 1005.4,1192.8 1009.9,1190.5 1015.6,1191.6 1020.1,1193.9 1024.1,1193.9 1022.4,1197.3 1025.8,1200.7 1026.9,1205.2 1030.3,1209.7 1028.0,1213.1 1026.9,1217.6 1024.6,1221.0 1022.4,1223.3 1020.1,1227.8 1021.2,1232.3 1020.7,1236.8 1017.9,1234.6 1013.3,1233.4 1009.9,1232.3 1007.7,1227.8 1004.3,1226.7 999.8,1225.5 996.4,1227.8 993.0,1224.4 990.7,1221.0 988.5,1217.6 987.3,1213.1 986.8,1208.6" fill="#d5dcd0" stroke="#3e4248" stroke-width="1.5" stroke-linejoin="round"/>
<path d="M1015.0,1175.8 L1004.3,1181.5 L993.0,1186.0 L981.7,1189.4 L977.2,1193.9 L974.9,1199.5 L976.0,1205.2 L973.8,1212.0 L970.4,1216.5 L969.3,1223.3 L971.5,1232.3" fill="none" stroke="#3e4248" stroke-width="5.2" stroke-linejoin="round" stroke-linecap="round"/>
<path d="M1015.0,1175.8 L1004.3,1181.5 L993.0,1186.0 L981.7,1189.4 L977.2,1193.9 L974.9,1199.5 L976.0,1205.2 L973.8,1212.0 L970.4,1216.5 L969.3,1223.3 L971.5,1232.3" fill="none" stroke="#d5bfa8" stroke-width="3.0" stroke-linejoin="round" stroke-linecap="round"/>
<path d="M979.4,1188.2 L972.7,1183.7 L969.3,1176.9 L967.0,1170.2 L963.6,1166.2 L960.2,1166.8 L959.7,1170.2 L962.5,1170.7 L963.6,1169.0" fill="none" stroke="#3e4248" stroke-width="1.4" stroke-linejoin="round"/>
<path d="M987.3,1271.9 L990.7,1277.5 L995.3,1282.0 L1000.9,1284.3 L1004.3,1285.4 L1005.4,1287.7 L1003.2,1288.8" fill="none" stroke="#3e4248" stroke-width="1.4" stroke-linejoin="round"/>
<path d="M991.9,1192.8 L997.5,1197.3" fill="none" stroke="#3e4248" stroke-width="1.4" stroke-linejoin="round"/>
<path d="M950.1,1217.6 L968.1,1217.6" fill="none" stroke="#3e4248" stroke-width="1.4" stroke-linejoin="round"/>
<path d="M950.1,1219.0 L968.1,1219.0" fill="none" stroke="#3e4248" stroke-width="1.4" stroke-linejoin="round"/>
<polygon points="926.3,1249.3 945,1238 969.3,1240 987.3,1245.9 986.2,1260.6 979.4,1278.6 967,1290 963.6,1308 958,1318.2 952.3,1327.2 944.4,1318.8 941,1308 934.2,1290 932,1271.9" fill="#8a4b5e"/>
<circle cx="926.3" cy="1249.3" r="9" fill="#8a4b5e" stroke="#3e4248" stroke-width="1.5" stroke-linejoin="round"/>
<circle cx="945" cy="1238" r="11.3" fill="#8a4b5e" stroke="#3e4248" stroke-width="1.5" stroke-linejoin="round"/>
<circle cx="987.3" cy="1245.9" r="8" fill="#8a4b5e" stroke="#3e4248" stroke-width="1.5" stroke-linejoin="round"/>
<circle cx="986.2" cy="1260.6" r="8.5" fill="#8a4b5e" stroke="#3e4248" stroke-width="1.5" stroke-linejoin="round"/>
<circle cx="969.3" cy="1245.9" r="13.6" fill="#8a4b5e" stroke="#3e4248" stroke-width="1.5" stroke-linejoin="round"/>
<circle cx="945" cy="1253.8" r="12.4" fill="#8a4b5e" stroke="#3e4248" stroke-width="1.5" stroke-linejoin="round"/>
<circle cx="932" cy="1271.9" r="8.5" fill="#8a4b5e" stroke="#3e4248" stroke-width="1.5" stroke-linejoin="round"/>
<circle cx="979.4" cy="1278.6" r="6.8" fill="#8a4b5e" stroke="#3e4248" stroke-width="1.5" stroke-linejoin="round"/>
<circle cx="968.1" cy="1268.5" r="11.9" fill="#8a4b5e" stroke="#3e4248" stroke-width="1.5" stroke-linejoin="round"/>
<circle cx="950" cy="1278.6" r="11.3" fill="#8a4b5e" stroke="#3e4248" stroke-width="1.5" stroke-linejoin="round"/>
<circle cx="934.2" cy="1290" r="8.5" fill="#8a4b5e" stroke="#3e4248" stroke-width="1.5" stroke-linejoin="round"/>
<circle cx="967" cy="1290" r="10.2" fill="#8a4b5e" stroke="#3e4248" stroke-width="1.5" stroke-linejoin="round"/>
<circle cx="950" cy="1296.7" r="7.9" fill="#8a4b5e" stroke="#3e4248" stroke-width="1.5" stroke-linejoin="round"/>
<circle cx="941" cy="1308" r="7.3" fill="#8a4b5e" stroke="#3e4248" stroke-width="1.5" stroke-linejoin="round"/>
<circle cx="963.6" cy="1308" r="9.6" fill="#8a4b5e" stroke="#3e4248" stroke-width="1.5" stroke-linejoin="round"/>
<circle cx="952.3" cy="1316" r="6.8" fill="#8a4b5e" stroke="#3e4248" stroke-width="1.5" stroke-linejoin="round"/>
<circle cx="944.4" cy="1318.8" r="6.2" fill="#8a4b5e" stroke="#3e4248" stroke-width="1.5" stroke-linejoin="round"/>
<circle cx="958" cy="1318.2" r="6.2" fill="#8a4b5e" stroke="#3e4248" stroke-width="1.5" stroke-linejoin="round"/>
<circle cx="952.3" cy="1327.2" r="5.6" fill="#8a4b5e" stroke="#3e4248" stroke-width="1.5" stroke-linejoin="round"/>
<line x1="273.5" y1="1612.2" x2="709.0" y2="1612.2" stroke="#000" stroke-width="2.3"/>
<rect x="273.50" y="1608.90" width="31.11" height="3.30" fill="#5c2416" stroke="#000" stroke-width="2.3"/>
<rect x="335.71" y="1601.90" width="31.11" height="10.30" fill="#f3702a" stroke="#000" stroke-width="2.3"/>
<rect x="366.82" y="1601.90" width="31.11" height="10.30" fill="#f5893f" stroke="#000" stroke-width="2.3"/>
<rect x="397.93" y="1601.90" width="31.11" height="10.30" fill="#f59d4c" stroke="#000" stroke-width="2.3"/>
<rect x="429.04" y="1605.70" width="31.11" height="6.50" fill="#f2b660" stroke="#000" stroke-width="2.3"/>
<rect x="460.14" y="1566.00" width="31.11" height="46.20" fill="#f1c472" stroke="#000" stroke-width="2.3"/>
<rect x="491.25" y="1498.20" width="31.11" height="114.00" fill="#eed984" stroke="#000" stroke-width="2.3"/>
<rect x="522.36" y="1438.20" width="31.11" height="174.00" fill="#e7e18f" stroke="#000" stroke-width="2.3"/>
<rect x="553.46" y="1324.00" width="31.11" height="288.20" fill="#d5d999" stroke="#000" stroke-width="2.3"/>
<rect x="584.57" y="1277.80" width="31.11" height="334.40" fill="#c5d0a0" stroke="#000" stroke-width="2.3"/>
<rect x="615.68" y="1277.80" width="31.11" height="334.40" fill="#b1c7aa" stroke="#000" stroke-width="2.3"/>
<rect x="646.79" y="1352.30" width="31.11" height="259.90" fill="#a0bfb4" stroke="#000" stroke-width="2.3"/>
<rect x="677.89" y="1377.20" width="31.11" height="235.00" fill="#8db5bd" stroke="#000" stroke-width="2.3"/>
<line x1="273.5" y1="1627.2" x2="709.0" y2="1627.2" stroke="#000" stroke-width="2.3" stroke-linecap="square"/>
<line x1="273.5" y1="1627.2" x2="273.5" y2="1641.0" stroke="#000" stroke-width="2.3"/>
<line x1="335.7" y1="1627.2" x2="335.7" y2="1641.0" stroke="#000" stroke-width="2.3"/>
<line x1="397.9" y1="1627.2" x2="397.9" y2="1641.0" stroke="#000" stroke-width="2.3"/>
<line x1="460.1" y1="1627.2" x2="460.1" y2="1641.0" stroke="#000" stroke-width="2.3"/>
<line x1="522.4" y1="1627.2" x2="522.4" y2="1641.0" stroke="#000" stroke-width="2.3"/>
<line x1="584.6" y1="1627.2" x2="584.6" y2="1641.0" stroke="#000" stroke-width="2.3"/>
<line x1="646.8" y1="1627.2" x2="646.8" y2="1641.0" stroke="#000" stroke-width="2.3"/>
<line x1="709.0" y1="1627.2" x2="709.0" y2="1641.0" stroke="#000" stroke-width="2.3"/>
<text x="345.3" y="1682" font-size="32" class="t" text-anchor="middle">0.70</text>
<text x="470.2" y="1682" font-size="32" class="t" text-anchor="middle">0.80</text>
<text x="594.9" y="1682" font-size="32" class="t" text-anchor="middle">0.90</text>
<text x="718.8" y="1682" font-size="32" class="t" text-anchor="middle">1.00</text>
<line x1="256.7" y1="1245.8" x2="256.7" y2="1611.6" stroke="#000" stroke-width="2.3" stroke-linecap="square"/>
<line x1="242.8" y1="1611.6" x2="256.7" y2="1611.6" stroke="#000" stroke-width="2.3"/>
<text class="t" font-size="32" text-anchor="middle" transform="translate(235,1609.7) rotate(-90)">0</text>
<line x1="242.8" y1="1520.3" x2="256.7" y2="1520.3" stroke="#000" stroke-width="2.3"/>
<text class="t" font-size="32" text-anchor="middle" transform="translate(235,1519.1) rotate(-90)">5</text>
<line x1="242.8" y1="1429" x2="256.7" y2="1429" stroke="#000" stroke-width="2.3"/>
<text class="t" font-size="32" text-anchor="middle" transform="translate(235,1422.7) rotate(-90)">10</text>
<line x1="242.8" y1="1337.3" x2="256.7" y2="1337.3" stroke="#000" stroke-width="2.3"/>
<text class="t" font-size="32" text-anchor="middle" transform="translate(235,1331) rotate(-90)">15</text>
<line x1="242.8" y1="1245.8" x2="256.7" y2="1245.8" stroke="#000" stroke-width="2.3"/>
<text class="t" font-size="32" text-anchor="middle" transform="translate(235,1240.4) rotate(-90)">20</text>
<line x1="843.0" y1="1613.6" x2="1334.4" y2="1613.6" stroke="#000" stroke-width="2.3"/>
<rect x="913.20" y="1608.70" width="35.10" height="4.90" fill="#d8683a" stroke="#000" stroke-width="2.3"/>
<rect x="948.30" y="1599.50" width="35.10" height="14.10" fill="#f5853a" stroke="#000" stroke-width="2.3"/>
<rect x="983.40" y="1590.90" width="35.10" height="22.70" fill="#f59a4c" stroke="#000" stroke-width="2.3"/>
<rect x="1018.50" y="1571.90" width="35.10" height="41.70" fill="#f0b05e" stroke="#000" stroke-width="2.3"/>
<rect x="1053.60" y="1519.50" width="35.10" height="94.10" fill="#f1c472" stroke="#000" stroke-width="2.3"/>
<rect x="1088.70" y="1477.00" width="35.10" height="136.60" fill="#eed984" stroke="#000" stroke-width="2.3"/>
<rect x="1123.80" y="1387.80" width="35.10" height="225.80" fill="#e7e18f" stroke="#000" stroke-width="2.3"/>
<rect x="1158.90" y="1326.70" width="35.10" height="286.90" fill="#d5d999" stroke="#000" stroke-width="2.3"/>
<rect x="1194.00" y="1260.30" width="35.10" height="353.30" fill="#c5d0a0" stroke="#000" stroke-width="2.3"/>
<rect x="1229.10" y="1283.70" width="35.10" height="329.90" fill="#b1c7aa" stroke="#000" stroke-width="2.3"/>
<rect x="1264.20" y="1298.50" width="35.10" height="315.10" fill="#a0bfb4" stroke="#000" stroke-width="2.3"/>
<rect x="1299.30" y="1373.40" width="35.10" height="240.20" fill="#8db5bd" stroke="#000" stroke-width="2.3"/>
<line x1="843.0" y1="1630.7" x2="1334.4" y2="1630.7" stroke="#000" stroke-width="2.3" stroke-linecap="square"/>
<line x1="843.0" y1="1630.7" x2="843.0" y2="1644.5" stroke="#000" stroke-width="2.3"/>
<line x1="913.2" y1="1630.7" x2="913.2" y2="1644.5" stroke="#000" stroke-width="2.3"/>
<line x1="983.4" y1="1630.7" x2="983.4" y2="1644.5" stroke="#000" stroke-width="2.3"/>
<line x1="1053.6" y1="1630.7" x2="1053.6" y2="1644.5" stroke="#000" stroke-width="2.3"/>
<line x1="1123.8" y1="1630.7" x2="1123.8" y2="1644.5" stroke="#000" stroke-width="2.3"/>
<line x1="1194.0" y1="1630.7" x2="1194.0" y2="1644.5" stroke="#000" stroke-width="2.3"/>
<line x1="1264.2" y1="1630.7" x2="1264.2" y2="1644.5" stroke="#000" stroke-width="2.3"/>
<line x1="1334.4" y1="1630.7" x2="1334.4" y2="1644.5" stroke="#000" stroke-width="2.3"/>
<text x="921.5" y="1687.5" font-size="32" class="t" text-anchor="middle">0.70</text>
<text x="1062.3" y="1687.5" font-size="32" class="t" text-anchor="middle">0.80</text>
<text x="1201.9" y="1687.5" font-size="32" class="t" text-anchor="middle">0.90</text>
<text x="1342.2" y="1687.5" font-size="32" class="t" text-anchor="middle">1.00</text>
<text class="t" font-size="39" x="502.2" y="1749.2" textLength="517.4" lengthAdjust="spacingAndGlyphs">Biocontrol Service Index (<tspan font-style="italic">bsi</tspan>)</text>
<text class="t" font-size="39" textLength="208" lengthAdjust="spacingAndGlyphs" transform="translate(137.1,1507) rotate(-90)">Density (%)</text>
</svg>
</body></html>
